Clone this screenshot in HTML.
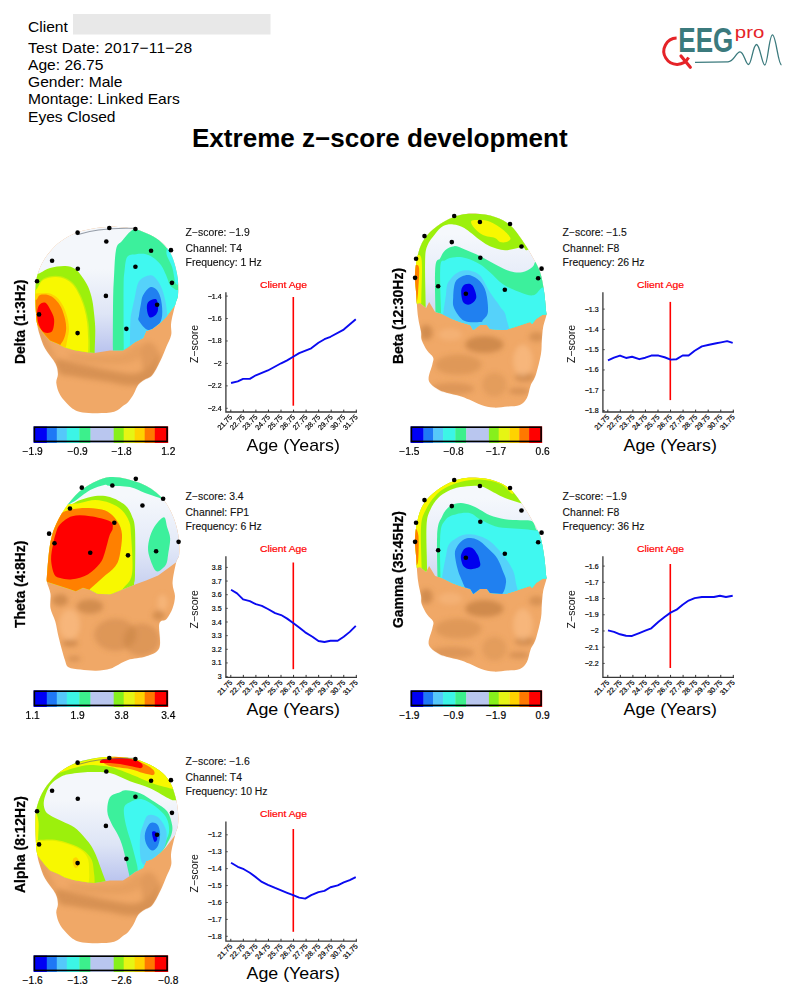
<!DOCTYPE html>
<html><head><meta charset="utf-8"><style>
html,body{margin:0;padding:0;background:#fff;}
body{width:798px;height:996px;overflow:hidden;position:relative;}
svg{position:absolute;left:0;top:0;}
</style></head><body>
<svg width="798" height="996" viewBox="0 0 798 996" font-family='"Liberation Sans", sans-serif'>
<defs><filter id="blur" x="-20%" y="-20%" width="140%" height="140%"><feGaussianBlur stdDeviation="14"/></filter><filter id="blur2" x="-20%" y="-20%" width="140%" height="140%"><feGaussianBlur stdDeviation="5"/></filter><linearGradient id="capgrad" x1="0" y1="0" x2="0" y2="1"><stop offset="0.4" stop-color="#f4f7fb"/><stop offset="0.68" stop-color="#dee5f6"/><stop offset="0.92" stop-color="#b9c3ee"/></linearGradient><linearGradient id="capgradF" x1="0" y1="0" x2="0" y2="1"><stop offset="0.2" stop-color="#f5f8fc"/><stop offset="0.5" stop-color="#e4eaf8"/><stop offset="0.82" stop-color="#c0caee"/></linearGradient></defs><defs><filter id="blurS" x="-50%" y="-50%" width="200%" height="200%"><feGaussianBlur stdDeviation="12"/></filter></defs><g transform="translate(30,215) scale(0.20080)"><defs><clipPath id="sil_delta"><path d="M28,450 C27.2,415.0 24.7,365.0 30,330 C35.3,295.0 46.7,266.7 60,240 C73.3,213.3 91.7,190.0 110,170 C128.3,150.0 148.3,134.2 170,120 C191.7,105.8 213.3,94.2 240,85 C266.7,75.8 303.3,69.5 330,65 C356.7,60.5 376.7,58.5 400,58 C423.3,57.5 448.3,59.7 470,62 C491.7,64.3 508.3,65.7 530,72 C551.7,78.3 578.3,88.7 600,100 C621.7,111.3 643.3,125.0 660,140 C676.7,155.0 689.2,170.0 700,190 C710.8,210.0 718.8,236.7 725,260 C731.2,283.3 735.0,306.7 737,330 C739.0,353.3 739.3,380.3 737,400 C734.7,419.7 728.7,425.0 723,448 C717.3,471.0 706.3,513.0 703,538 C699.7,563.0 707.2,578.0 703,598 C698.8,618.0 687.2,636.3 678,658 C668.8,679.7 659.7,704.7 648,728 C636.3,751.3 621.0,782.7 608,798 C595.0,813.3 581.5,812.2 570,820 C558.5,827.8 547.8,833.3 539,845 C530.2,856.7 525.2,875.8 517,890 C508.8,904.2 498.8,920.0 490,930 C481.2,940.0 475.8,941.7 464,950 C452.2,958.3 440.2,973.8 419,980 C397.8,986.2 363.2,986.5 337,987 C310.8,987.5 280.7,985.5 262,983 C243.3,980.5 236.2,977.5 225,972 C213.8,966.5 207.5,962.5 195,950 C182.5,937.5 160.7,915.8 150,897 C139.3,878.2 132.8,854.5 131,837 C129.2,819.5 139.7,808.2 139,792 C138.3,775.8 137.7,761.2 127,740 C116.3,718.8 88.0,688.7 75,665 C62.0,641.3 55.7,618.8 49,598 C42.3,577.2 38.5,564.7 35,540 C31.5,515.3 28.8,485.0 28,450Z"/></clipPath><clipPath id="cap_delta"><path d="M-50,-50 L850,-50 L850,440 L740,440 L723,448 L708,468 L678,508 L648,538 L608,568 L578,578 L563,613 L523,633 L488,658 L463,675 L398,675 L322,687 L285,684 L217,672 L172,658 L142,643 L100,625 L75,598 L45,559 L20,520 L-50,520 Z"/></clipPath></defs><path d="M28,450 C27.2,415.0 24.7,365.0 30,330 C35.3,295.0 46.7,266.7 60,240 C73.3,213.3 91.7,190.0 110,170 C128.3,150.0 148.3,134.2 170,120 C191.7,105.8 213.3,94.2 240,85 C266.7,75.8 303.3,69.5 330,65 C356.7,60.5 376.7,58.5 400,58 C423.3,57.5 448.3,59.7 470,62 C491.7,64.3 508.3,65.7 530,72 C551.7,78.3 578.3,88.7 600,100 C621.7,111.3 643.3,125.0 660,140 C676.7,155.0 689.2,170.0 700,190 C710.8,210.0 718.8,236.7 725,260 C731.2,283.3 735.0,306.7 737,330 C739.0,353.3 739.3,380.3 737,400 C734.7,419.7 728.7,425.0 723,448 C717.3,471.0 706.3,513.0 703,538 C699.7,563.0 707.2,578.0 703,598 C698.8,618.0 687.2,636.3 678,658 C668.8,679.7 659.7,704.7 648,728 C636.3,751.3 621.0,782.7 608,798 C595.0,813.3 581.5,812.2 570,820 C558.5,827.8 547.8,833.3 539,845 C530.2,856.7 525.2,875.8 517,890 C508.8,904.2 498.8,920.0 490,930 C481.2,940.0 475.8,941.7 464,950 C452.2,958.3 440.2,973.8 419,980 C397.8,986.2 363.2,986.5 337,987 C310.8,987.5 280.7,985.5 262,983 C243.3,980.5 236.2,977.5 225,972 C213.8,966.5 207.5,962.5 195,950 C182.5,937.5 160.7,915.8 150,897 C139.3,878.2 132.8,854.5 131,837 C129.2,819.5 139.7,808.2 139,792 C138.3,775.8 137.7,761.2 127,740 C116.3,718.8 88.0,688.7 75,665 C62.0,641.3 55.7,618.8 49,598 C42.3,577.2 38.5,564.7 35,540 C31.5,515.3 28.8,485.0 28,450Z" fill="#f0a867"/><g clip-path="url(#sil_delta)"><g filter="url(#blur)" opacity="0.5"><path d="M130,720 C148.3,712.5 215.0,735.8 260,745 C305.0,754.2 356.7,767.5 400,775 C443.3,782.5 486.7,794.2 520,790 C553.3,785.8 578.3,766.7 600,750 C621.7,733.3 648.3,676.7 650,690 C651.7,703.3 635.0,803.3 610,830 C585.0,856.7 538.3,850.0 500,850 C461.7,850.0 426.7,837.5 380,830 C333.3,822.5 258.3,811.7 220,805 C181.7,798.3 165.0,804.2 150,790 C135.0,775.8 111.7,727.5 130,720Z" fill="#c07c40"/><path d="M200,690 C220.0,686.7 286.7,700.0 330,700 C373.3,700.0 425.0,700.0 460,690 C495.0,680.0 523.3,638.3 540,640 C556.7,641.7 571.7,683.3 560,700 C548.3,716.7 510.0,733.3 470,740 C430.0,746.7 363.3,743.3 320,740 C276.7,736.7 230.0,728.3 210,720 C190.0,711.7 180.0,693.3 200,690Z" fill="#c07c40" opacity="0.35"/><path d="M560,650 C568.3,630.0 596.7,631.7 610,640 C623.3,648.3 641.7,673.3 640,700 C638.3,726.7 613.3,790.0 600,800 C586.7,810.0 566.7,785.0 560,760 C553.3,735.0 551.7,670.0 560,650Z" fill="#c07c40" opacity="0.6"/><path d="M40,560 C46.7,563.3 75.0,613.3 90,640 C105.0,666.7 128.3,710.0 130,720 C131.7,730.0 113.3,716.7 100,700 C86.7,683.3 60.0,643.3 50,620 C40.0,596.7 33.3,556.7 40,560Z" fill="#c07c40" opacity="0.6"/></g><g clip-path="url(#cap_delta)"><rect x="-50" y="-50" width="900" height="800" fill="url(#capgrad)"/><path d="M-20,300 C-20.0,300.0 33.3,297.3 50,289 C66.7,280.7 79.2,269.8 100,264 C120.8,258.2 154.2,253.2 175,254 C195.8,254.8 210.8,259.8 225,269 C239.2,278.2 249.2,294.0 260,309 C270.8,324.0 281.7,339.8 290,359 C298.3,378.2 305.0,400.7 310,424 C315.0,447.3 317.5,474.0 320,499 C322.5,524.0 324.7,544.0 325,574 C325.3,604.0 323.0,644.0 322,679 C321.0,714.0 325.0,760.0 325,760 C325.0,760.0 -20.0,760.0 -20,760 C-20.0,760.0 -20.0,300.0 -20,300Z" fill="#9cf00c"/><path d="M-20,360 C-20.0,360.0 25.0,380.7 35,365 C45.0,349.3 50.0,328.3 65,318 C80.0,307.7 106.7,304.0 125,303 C143.3,302.0 159.5,305.5 175,312 C190.5,318.5 205.5,328.2 218,342 C230.5,355.8 240.3,375.0 250,395 C259.7,415.0 269.0,438.2 276,462 C283.0,485.8 288.3,511.0 292,538 C295.7,565.0 296.0,595.3 298,624 C300.0,652.7 295.0,760.0 295,760 C295.0,760.0 -20.0,760.0 -20,760 C-20.0,760.0 -20.0,360.0 -20,360Z" fill="#c8f008"/><path d="M-20,369 C-20.0,369.0 25.0,384.0 35,369 C45.0,354.0 50.0,334.0 65,324 C80.0,314.0 106.7,309.8 125,309 C143.3,308.2 160.0,312.3 175,319 C190.0,325.7 203.3,335.7 215,349 C226.7,362.3 235.8,379.8 245,399 C254.2,418.2 263.3,440.7 270,464 C276.7,487.3 281.7,512.3 285,539 C288.3,565.7 288.3,595.7 290,624 C291.7,652.3 285.0,760.0 285,760 C285.0,760.0 -20.0,760.0 -20,760 C-20.0,760.0 -20.0,369.0 -20,369Z" fill="#f8f800"/><path d="M-20,410 C-20.0,410.0 22.7,390.0 40,390 C57.3,390.0 76.5,386.7 92,390 C107.5,393.3 120.7,399.2 133,410 C145.3,420.8 156.8,437.0 166,455 C175.2,473.0 183.3,498.5 188,518 C192.7,537.5 194.3,555.0 194,572 C193.7,589.0 188.7,604.0 186,620 C183.3,636.0 170.0,700.0 170,700 C170.0,700.0 -20.0,760.0 -20,760 C-20.0,760.0 -20.0,410.0 -20,410Z" fill="#ffd400"/><path d="M-20,419 C-20.0,419.0 30.0,425.7 35,419 C40.0,412.3 40.8,402.3 50,399 C59.2,395.7 77.5,395.7 90,399 C102.5,402.3 114.2,409.0 125,419 C135.8,429.0 146.7,442.3 155,459 C163.3,475.7 170.8,500.7 175,519 C179.2,537.3 180.8,553.2 180,569 C179.2,584.8 175.0,600.7 170,614 C165.0,627.3 156.7,637.3 150,649 C143.3,660.7 100.0,760.0 100,760 C100.0,760.0 -20.0,760.0 -20,760 C-20.0,760.0 -20.0,419.0 -20,419Z" fill="#ff8000"/><path d="M45,449 C51.7,439.3 65.8,432.7 75,436 C84.2,439.3 92.5,455.2 100,469 C107.5,482.8 118.3,500.7 120,519 C121.7,537.3 118.3,568.2 110,579 C101.7,589.8 80.8,589.0 70,584 C59.2,579.0 50.8,564.0 45,549 C39.2,534.0 35.0,510.7 35,494 C35.0,477.3 38.3,458.7 45,449Z" fill="#ff0000"/><path d="M413,760 C413.0,760.0 412.0,408.3 416,350 C420.0,291.7 421.0,211.7 428,175 C435.0,138.3 445.5,145.8 458,130 C470.5,114.2 488.0,91.7 503,80 C518.0,68.3 530.5,57.5 548,60 C565.5,62.5 589.7,81.7 608,95 C626.3,108.3 643.0,124.2 658,140 C673.0,155.8 687.2,170.8 698,190 C708.8,209.2 715.2,228.3 723,255 C730.8,281.7 737.7,318.3 745,350 C752.3,381.7 760.0,760.0 760,760 C760.0,760.0 413.0,760.0 413,760Z" fill="#3cf09c"/><path d="M468,760 C468.0,760.0 463.0,330.0 468,300 C473.0,270.0 473.0,227.5 483,210 C493.0,192.5 512.2,197.5 528,195 C543.8,192.5 563.0,191.7 578,195 C593.0,198.3 605.5,205.8 618,215 C630.5,224.2 643.0,235.8 653,250 C663.0,264.2 670.5,283.3 678,300 C685.5,316.7 690.2,338.0 698,350 C705.8,362.0 716.0,364.7 725,372 C734.0,379.3 760.0,360.0 760,360 C760.0,360.0 760.0,760.0 760,760 C760.0,760.0 468.0,760.0 468,760Z" fill="#40f8f0"/><path d="M690,165 C697.5,168.3 715.8,192.5 725,215 C734.2,237.5 738.3,271.7 745,300 C751.7,328.3 752.0,345.0 752,345 C752.0,345.0 726.7,356.0 722,332 C717.3,308.0 715.0,282.8 708,260 C701.0,237.2 683.0,210.8 680,195 C677.0,179.2 682.5,161.7 690,165Z" fill="#40f8f0"/><path d="M498,700 C498.0,700.0 497.3,524.0 503,498 C508.7,472.0 513.3,448.0 520,420 C526.7,392.0 530.0,350.0 543,330 C556.0,310.0 583.5,301.7 598,300 C612.5,298.3 620.0,308.3 630,320 C640.0,331.7 650.0,348.3 658,370 C666.0,391.7 673.8,420.8 678,450 C682.2,479.2 686.0,520.0 683,545 C680.0,570.0 673.8,584.2 660,600 C646.2,615.8 620.0,626.7 600,640 C580.0,653.3 498.0,700.0 498,700Z" fill="#55d2fa"/><path d="M543,500 C544.7,485.3 549.7,456.7 553,440 C556.3,423.3 555.5,413.3 563,400 C570.5,386.7 586.3,364.2 598,360 C609.7,355.8 623.8,364.2 633,375 C642.2,385.8 648.8,404.2 653,425 C657.2,445.8 660.5,479.5 658,500 C655.5,520.5 649.7,535.8 638,548 C626.3,560.2 603.8,576.3 588,573 C572.2,569.7 550.5,540.2 543,528 C535.5,515.8 541.3,514.7 543,500Z" fill="#2080f0"/><path d="M583,475 C581.3,462.5 580.5,444.2 588,435 C595.5,425.8 619.7,415.0 628,420 C636.3,425.0 638.0,452.5 638,465 C638.0,477.5 634.7,487.5 628,495 C621.3,502.5 605.5,513.3 598,510 C590.5,506.7 584.7,487.5 583,475Z" fill="#0000ee"/></g></g><path d="M235,98 C300,75 380,62 520,66" fill="none" stroke="#556070" stroke-width="5" opacity="0.6"/><circle cx="237" cy="88" r="11.5" fill="#000"/><circle cx="395" cy="65" r="11.5" fill="#000"/><circle cx="525" cy="70" r="11.5" fill="#000"/><circle cx="380" cy="132" r="11.5" fill="#000"/><circle cx="110" cy="228" r="11.5" fill="#000"/><circle cx="238" cy="268" r="11.5" fill="#000"/><circle cx="603" cy="178" r="11.5" fill="#000"/><circle cx="702" cy="175" r="11.5" fill="#000"/><circle cx="525" cy="258" r="11.5" fill="#000"/><circle cx="35" cy="330" r="11.5" fill="#000"/><circle cx="378" cy="403" r="11.5" fill="#000"/><circle cx="707" cy="338" r="11.5" fill="#000"/><circle cx="633" cy="447" r="11.5" fill="#000"/><circle cx="45" cy="495" r="11.5" fill="#000"/><circle cx="237" cy="588" r="11.5" fill="#000"/><circle cx="480" cy="567" r="11.5" fill="#000"/></g><g transform="translate(30,745) scale(0.20080)"><defs><clipPath id="sil_alpha"><path d="M28,450 C27.2,415.0 24.7,365.0 30,330 C35.3,295.0 46.7,266.7 60,240 C73.3,213.3 91.7,190.0 110,170 C128.3,150.0 148.3,134.2 170,120 C191.7,105.8 213.3,94.2 240,85 C266.7,75.8 303.3,69.5 330,65 C356.7,60.5 376.7,58.5 400,58 C423.3,57.5 448.3,59.7 470,62 C491.7,64.3 508.3,65.7 530,72 C551.7,78.3 578.3,88.7 600,100 C621.7,111.3 643.3,125.0 660,140 C676.7,155.0 689.2,170.0 700,190 C710.8,210.0 718.8,236.7 725,260 C731.2,283.3 735.0,306.7 737,330 C739.0,353.3 739.3,380.3 737,400 C734.7,419.7 728.7,425.0 723,448 C717.3,471.0 706.3,513.0 703,538 C699.7,563.0 707.2,578.0 703,598 C698.8,618.0 687.2,636.3 678,658 C668.8,679.7 659.7,704.7 648,728 C636.3,751.3 621.0,782.7 608,798 C595.0,813.3 581.5,812.2 570,820 C558.5,827.8 547.8,833.3 539,845 C530.2,856.7 525.2,875.8 517,890 C508.8,904.2 498.8,920.0 490,930 C481.2,940.0 475.8,941.7 464,950 C452.2,958.3 440.2,973.8 419,980 C397.8,986.2 363.2,986.5 337,987 C310.8,987.5 280.7,985.5 262,983 C243.3,980.5 236.2,977.5 225,972 C213.8,966.5 207.5,962.5 195,950 C182.5,937.5 160.7,915.8 150,897 C139.3,878.2 132.8,854.5 131,837 C129.2,819.5 139.7,808.2 139,792 C138.3,775.8 137.7,761.2 127,740 C116.3,718.8 88.0,688.7 75,665 C62.0,641.3 55.7,618.8 49,598 C42.3,577.2 38.5,564.7 35,540 C31.5,515.3 28.8,485.0 28,450Z"/></clipPath><clipPath id="cap_alpha"><path d="M-50,-50 L850,-50 L850,440 L740,440 L723,448 L708,468 L678,508 L648,538 L608,568 L578,578 L563,613 L523,633 L488,658 L463,675 L398,675 L322,687 L285,684 L217,672 L172,658 L142,643 L100,625 L75,598 L45,559 L20,520 L-50,520 Z"/></clipPath></defs><path d="M28,450 C27.2,415.0 24.7,365.0 30,330 C35.3,295.0 46.7,266.7 60,240 C73.3,213.3 91.7,190.0 110,170 C128.3,150.0 148.3,134.2 170,120 C191.7,105.8 213.3,94.2 240,85 C266.7,75.8 303.3,69.5 330,65 C356.7,60.5 376.7,58.5 400,58 C423.3,57.5 448.3,59.7 470,62 C491.7,64.3 508.3,65.7 530,72 C551.7,78.3 578.3,88.7 600,100 C621.7,111.3 643.3,125.0 660,140 C676.7,155.0 689.2,170.0 700,190 C710.8,210.0 718.8,236.7 725,260 C731.2,283.3 735.0,306.7 737,330 C739.0,353.3 739.3,380.3 737,400 C734.7,419.7 728.7,425.0 723,448 C717.3,471.0 706.3,513.0 703,538 C699.7,563.0 707.2,578.0 703,598 C698.8,618.0 687.2,636.3 678,658 C668.8,679.7 659.7,704.7 648,728 C636.3,751.3 621.0,782.7 608,798 C595.0,813.3 581.5,812.2 570,820 C558.5,827.8 547.8,833.3 539,845 C530.2,856.7 525.2,875.8 517,890 C508.8,904.2 498.8,920.0 490,930 C481.2,940.0 475.8,941.7 464,950 C452.2,958.3 440.2,973.8 419,980 C397.8,986.2 363.2,986.5 337,987 C310.8,987.5 280.7,985.5 262,983 C243.3,980.5 236.2,977.5 225,972 C213.8,966.5 207.5,962.5 195,950 C182.5,937.5 160.7,915.8 150,897 C139.3,878.2 132.8,854.5 131,837 C129.2,819.5 139.7,808.2 139,792 C138.3,775.8 137.7,761.2 127,740 C116.3,718.8 88.0,688.7 75,665 C62.0,641.3 55.7,618.8 49,598 C42.3,577.2 38.5,564.7 35,540 C31.5,515.3 28.8,485.0 28,450Z" fill="#f0a867"/><g clip-path="url(#sil_alpha)"><g filter="url(#blur)" opacity="0.5"><path d="M130,720 C148.3,712.5 215.0,735.8 260,745 C305.0,754.2 356.7,767.5 400,775 C443.3,782.5 486.7,794.2 520,790 C553.3,785.8 578.3,766.7 600,750 C621.7,733.3 648.3,676.7 650,690 C651.7,703.3 635.0,803.3 610,830 C585.0,856.7 538.3,850.0 500,850 C461.7,850.0 426.7,837.5 380,830 C333.3,822.5 258.3,811.7 220,805 C181.7,798.3 165.0,804.2 150,790 C135.0,775.8 111.7,727.5 130,720Z" fill="#c07c40"/><path d="M200,690 C220.0,686.7 286.7,700.0 330,700 C373.3,700.0 425.0,700.0 460,690 C495.0,680.0 523.3,638.3 540,640 C556.7,641.7 571.7,683.3 560,700 C548.3,716.7 510.0,733.3 470,740 C430.0,746.7 363.3,743.3 320,740 C276.7,736.7 230.0,728.3 210,720 C190.0,711.7 180.0,693.3 200,690Z" fill="#c07c40" opacity="0.35"/><path d="M560,650 C568.3,630.0 596.7,631.7 610,640 C623.3,648.3 641.7,673.3 640,700 C638.3,726.7 613.3,790.0 600,800 C586.7,810.0 566.7,785.0 560,760 C553.3,735.0 551.7,670.0 560,650Z" fill="#c07c40" opacity="0.6"/><path d="M40,560 C46.7,563.3 75.0,613.3 90,640 C105.0,666.7 128.3,710.0 130,720 C131.7,730.0 113.3,716.7 100,700 C86.7,683.3 60.0,643.3 50,620 C40.0,596.7 33.3,556.7 40,560Z" fill="#c07c40" opacity="0.6"/></g><g clip-path="url(#cap_alpha)"><rect x="-50" y="-50" width="900" height="800" fill="url(#capgrad)"/><path d="M-50,-50 C-50.0,-50.0 850.0,-50.0 850,-50 C850.0,-50.0 850.0,290.0 850,290 C850.0,290.0 731.3,276.7 723,275 C714.7,273.3 718.8,280.0 698,270 C677.2,260.0 631.3,230.0 598,215 C564.7,200.0 531.3,192.5 498,180 C464.7,167.5 431.0,147.5 398,140 C365.0,132.5 333.0,134.2 300,135 C267.0,135.8 225.0,140.8 200,145 C175.0,149.2 166.7,150.8 150,160 C133.3,169.2 113.3,180.8 100,200 C86.7,219.2 74.2,254.2 70,275 C65.8,295.8 70.0,312.5 75,325 C80.0,337.5 85.8,340.8 100,350 C114.2,359.2 140.0,370.0 160,380 C180.0,390.0 200.8,395.8 220,410 C239.2,424.2 258.3,445.0 275,465 C291.7,485.0 303.3,495.3 320,530 C336.7,564.7 356.7,625.3 375,673 C393.3,720.7 375.0,760.0 375,760 C375.0,760.0 -50.0,760.0 -50,760 C-50.0,760.0 -50.0,-50.0 -50,-50Z" fill="#9cf00c"/><path d="M140,140 C140.0,136.7 185.0,108.0 220,95 C255.0,82.0 311.7,69.2 350,62 C388.3,54.8 415.0,51.0 450,52 C485.0,53.0 526.7,58.7 560,68 C593.3,77.3 625.8,92.7 650,108 C674.2,123.3 690.8,141.3 705,160 C719.2,178.7 734.5,210.3 735,220 C735.5,229.7 717.5,219.7 708,218 C698.5,216.3 692.2,213.8 678,210 C663.8,206.2 644.7,202.5 623,195 C601.3,187.5 577.2,176.7 548,165 C518.8,153.3 473.0,134.2 448,125 C423.0,115.8 422.7,114.2 398,110 C373.3,105.8 329.7,99.2 300,100 C270.3,100.8 246.7,108.3 220,115 C193.3,121.7 140.0,143.3 140,140Z" fill="#f8f800"/><path d="M-50,300 C-50.0,300.0 12.7,273.3 20,300 C27.3,326.7 38.7,351.7 42,380 C45.3,408.3 40.7,440.0 40,470 C39.3,500.0 -50.0,480.0 -50,480 C-50.0,480.0 -50.0,300.0 -50,300Z" fill="#f8f800"/><path d="M398,105 C421.0,111.7 470.5,114.2 498,120 C525.5,125.8 543.8,135.0 563,140 C582.2,145.0 603.8,151.7 613,150 C622.2,148.3 622.2,137.5 618,130 C613.8,122.5 603.8,114.2 588,105 C572.2,95.8 546.0,82.5 523,75 C500.0,67.5 470.8,61.7 450,60 C429.2,58.3 413.0,61.7 398,65 C383.0,68.3 360.0,73.3 360,80 C360.0,86.7 375.0,98.3 398,105Z" fill="#ff8000"/><path d="M360,72 C368.0,69.0 383.3,71.2 398,70 C412.7,68.8 427.2,64.2 448,65 C468.8,65.8 504.7,70.0 523,75 C541.3,80.0 553.0,88.3 558,95 C563.0,101.7 563.0,113.3 553,115 C543.0,116.7 515.5,108.3 498,105 C480.5,101.7 464.7,97.5 448,95 C431.3,92.5 414.3,91.2 398,90 C381.7,88.8 356.3,91.0 350,88 C343.7,85.0 352.0,75.0 360,72Z" fill="#ff0000"/><path d="M20,478 C30.0,476.0 32.5,473.0 50,472 C67.5,471.0 100.0,468.7 125,472 C150.0,475.3 176.5,483.3 200,492 C223.5,500.7 248.0,510.5 266,524 C284.0,537.5 299.0,552.3 308,573 C317.0,593.7 316.0,623.0 320,648 C324.0,673.0 320.0,760.0 320,760 C320.0,760.0 -50.0,760.0 -50,760 C-50.0,760.0 -50.0,500.0 -50,500 C-50.0,500.0 10.0,480.0 20,478Z" fill="#e0f000"/><path d="M20,478 C30.0,478.0 32.5,478.0 50,478 C67.5,478.0 100.0,474.7 125,478 C150.0,481.3 177.5,489.7 200,498 C222.5,506.3 245.0,515.5 260,528 C275.0,540.5 284.2,553.0 290,573 C295.8,593.0 293.3,623.0 295,648 C296.7,673.0 280.0,760.0 280,760 C280.0,760.0 -50.0,760.0 -50,760 C-50.0,760.0 -50.0,500.0 -50,500 C-50.0,500.0 10.0,478.0 20,478Z" fill="#f8f800"/><path d="M215,568 C218.0,562.7 226.5,557.2 232,560 C237.5,562.8 246.7,577.5 248,585 C249.3,592.5 243.8,600.3 240,605 C236.2,609.7 229.3,615.2 225,613 C220.7,610.8 215.7,599.5 214,592 C212.3,584.5 212.0,573.3 215,568Z" fill="#ffd400"/><path d="M385,330 C383.8,308.3 387.5,275.8 398,260 C408.5,244.2 434.7,240.8 448,235 C461.3,229.2 461.3,224.2 478,225 C494.7,225.8 523.8,230.0 548,240 C572.2,250.0 600.5,270.0 623,285 C645.5,300.0 668.8,310.8 683,330 C697.2,349.2 704.7,380.0 708,400 C711.3,420.0 708.0,433.3 703,450 C698.0,466.7 687.2,483.7 678,500 C668.8,516.3 657.7,531.3 648,548 C638.3,564.7 629.3,582.7 620,600 C610.7,617.3 500.0,760.0 500,760 C500.0,760.0 503.0,686.3 493,643 C483.0,599.7 472.2,545.5 463,513 C453.8,480.5 447.7,468.5 438,448 C428.3,427.5 413.8,409.7 405,390 C396.2,370.3 386.2,351.7 385,330Z" fill="#3cf09c"/><path d="M468,315 C471.3,295.8 483.0,292.5 498,285 C513.0,277.5 537.2,266.7 558,270 C578.8,273.3 603.0,290.0 623,305 C643.0,320.0 666.3,340.0 678,360 C689.7,380.0 693.0,405.8 693,425 C693.0,444.2 686.3,457.5 678,475 C669.7,492.5 656.0,510.8 643,530 C630.0,549.2 614.3,570.0 600,590 C585.7,610.0 533.0,700.0 533,700 C533.0,700.0 541.3,630.7 533,598 C524.7,565.3 517.2,533.0 508,500 C498.8,467.0 484.7,430.8 478,400 C471.3,369.2 464.7,334.2 468,315Z" fill="#40f8f0"/><path d="M563,400 C569.7,381.7 575.5,356.7 588,350 C600.5,343.3 623.0,347.5 638,360 C653.0,372.5 672.2,401.7 678,425 C683.8,448.3 679.7,480.0 673,500 C666.3,520.0 651.8,528.3 638,545 C624.2,561.7 604.2,595.0 590,600 C575.8,605.0 560.0,598.3 553,575 C546.0,551.7 546.3,489.2 548,460 C549.7,430.8 556.3,418.3 563,400Z" fill="#55d2fa"/><path d="M573,440 C576.3,423.3 588.0,397.5 598,390 C608.0,382.5 624.7,386.7 633,395 C641.3,403.3 647.2,422.5 648,440 C648.8,457.5 644.7,485.8 638,500 C631.3,514.2 618.0,526.7 608,525 C598.0,523.3 583.8,504.2 578,490 C572.2,475.8 569.7,456.7 573,440Z" fill="#2080f0"/><path d="M608,435 C609.7,427.5 623.8,429.2 628,435 C632.2,440.8 634.7,462.5 633,470 C631.3,477.5 622.2,485.8 618,480 C613.8,474.2 606.3,442.5 608,435Z" fill="#0000ee"/></g></g><path d="M235,98 C300,75 380,62 520,66" fill="none" stroke="#556070" stroke-width="5" opacity="0.6"/><circle cx="237" cy="88" r="11.5" fill="#000"/><circle cx="395" cy="65" r="11.5" fill="#000"/><circle cx="525" cy="70" r="11.5" fill="#000"/><circle cx="380" cy="132" r="11.5" fill="#000"/><circle cx="110" cy="228" r="11.5" fill="#000"/><circle cx="238" cy="268" r="11.5" fill="#000"/><circle cx="603" cy="178" r="11.5" fill="#000"/><circle cx="702" cy="175" r="11.5" fill="#000"/><circle cx="525" cy="258" r="11.5" fill="#000"/><circle cx="35" cy="330" r="11.5" fill="#000"/><circle cx="378" cy="403" r="11.5" fill="#000"/><circle cx="707" cy="338" r="11.5" fill="#000"/><circle cx="633" cy="447" r="11.5" fill="#000"/><circle cx="45" cy="495" r="11.5" fill="#000"/><circle cx="237" cy="588" r="11.5" fill="#000"/><circle cx="480" cy="567" r="11.5" fill="#000"/></g><g transform="translate(400,212) scale(0.20080)"><defs><clipPath id="sil_beta"><path d="M375,8 C403.8,9.7 444.2,15.5 473,25 C501.8,34.5 525.5,45.8 548,65 C570.5,84.2 589.7,114.2 608,140 C626.3,165.8 643.0,193.3 658,220 C673.0,246.7 688.0,270.0 698,300 C708.0,330.0 713.0,367.0 718,400 C723.0,433.0 726.0,479.7 728,498 C730.0,516.3 732.5,497.5 730,510 C727.5,522.5 717.0,551.3 713,573 C709.0,594.7 707.8,617.7 706,640 C704.2,662.3 707.0,678.3 702,707 C697.0,735.7 684.7,785.7 676,812 C667.3,838.3 657.3,846.0 650,865 C642.7,884.0 640.8,910.0 632,926 C623.2,942.0 613.0,953.8 597,961 C581.0,968.2 557.8,966.8 536,969 C514.2,971.2 487.8,975.3 466,974 C444.2,972.7 425.3,967.7 405,961 C384.7,954.3 361.3,941.3 344,934 C326.7,926.7 319.8,922.7 301,917 C282.2,911.3 250.0,905.8 231,900 C212.0,894.2 201.7,892.3 187,882 C172.3,871.7 147.3,858.3 143,838 C138.7,817.7 157.3,778.8 161,760 C164.7,741.2 169.3,736.7 165,725 C160.7,713.3 144.5,704.7 135,690 C125.5,675.3 113.0,652.3 108,637 C103.0,621.7 108.0,617.0 105,598 C102.0,579.0 94.2,556.3 90,523 C85.8,489.7 82.5,435.2 80,398 C77.5,360.8 71.7,337.2 75,300 C78.3,262.8 87.5,208.3 100,175 C112.5,141.7 129.2,121.7 150,100 C170.8,78.3 200.0,59.2 225,45 C250.0,30.8 275.0,21.2 300,15 C325.0,8.8 346.2,6.3 375,8Z"/></clipPath><clipPath id="cap_beta"><path d="M-50,-50 L850,-50 L850,510 L730,510 L708,513 L678,533 L658,558 L648,548 L573,573 L523,588 L448,583 L433,563 L398,563 L365,588 L350,563 L300,548 L260,533 L210,508 L175,498 L145,448 L130,478 L100,453 L80,458 L-50,440 Z"/></clipPath></defs><path d="M375,8 C403.8,9.7 444.2,15.5 473,25 C501.8,34.5 525.5,45.8 548,65 C570.5,84.2 589.7,114.2 608,140 C626.3,165.8 643.0,193.3 658,220 C673.0,246.7 688.0,270.0 698,300 C708.0,330.0 713.0,367.0 718,400 C723.0,433.0 726.0,479.7 728,498 C730.0,516.3 732.5,497.5 730,510 C727.5,522.5 717.0,551.3 713,573 C709.0,594.7 707.8,617.7 706,640 C704.2,662.3 707.0,678.3 702,707 C697.0,735.7 684.7,785.7 676,812 C667.3,838.3 657.3,846.0 650,865 C642.7,884.0 640.8,910.0 632,926 C623.2,942.0 613.0,953.8 597,961 C581.0,968.2 557.8,966.8 536,969 C514.2,971.2 487.8,975.3 466,974 C444.2,972.7 425.3,967.7 405,961 C384.7,954.3 361.3,941.3 344,934 C326.7,926.7 319.8,922.7 301,917 C282.2,911.3 250.0,905.8 231,900 C212.0,894.2 201.7,892.3 187,882 C172.3,871.7 147.3,858.3 143,838 C138.7,817.7 157.3,778.8 161,760 C164.7,741.2 169.3,736.7 165,725 C160.7,713.3 144.5,704.7 135,690 C125.5,675.3 113.0,652.3 108,637 C103.0,621.7 108.0,617.0 105,598 C102.0,579.0 94.2,556.3 90,523 C85.8,489.7 82.5,435.2 80,398 C77.5,360.8 71.7,337.2 75,300 C78.3,262.8 87.5,208.3 100,175 C112.5,141.7 129.2,121.7 150,100 C170.8,78.3 200.0,59.2 225,45 C250.0,30.8 275.0,21.2 300,15 C325.0,8.8 346.2,6.3 375,8Z" fill="#f0a867"/><g clip-path="url(#sil_beta)"><g filter="url(#blurS)"><ellipse cx="420" cy="660" rx="95" ry="42" fill="#c07c40" opacity="0.69"/><ellipse cx="680" cy="622" rx="38" ry="24" fill="#c07c40" opacity="0.5"/><ellipse cx="130" cy="600" rx="32" ry="38" fill="#c07c40" opacity="0.62"/><ellipse cx="620" cy="822" rx="48" ry="22" fill="#c07c40" opacity="0.62"/><ellipse cx="592" cy="892" rx="52" ry="16" fill="#c07c40" opacity="0.5"/><ellipse cx="290" cy="760" rx="115" ry="50" fill="#c07c40" opacity="0.35"/><ellipse cx="260" cy="880" rx="110" ry="30" fill="#c07c40" opacity="0.38"/><ellipse cx="470" cy="860" rx="60" ry="60" fill="#c07c40" opacity="0.25"/><ellipse cx="612" cy="740" rx="48" ry="80" fill="#ffc894" opacity="0.45"/><ellipse cx="250" cy="610" rx="60" ry="30" fill="#ffc894" opacity="0.3"/></g><g clip-path="url(#cap_beta)"><rect x="-50" y="-50" width="900" height="800" fill="url(#capgradF)"/><path d="M-50,-50 C-50.0,-50.0 850.0,-50.0 850,-50 C850.0,-50.0 850.0,120.0 850,120 C850.0,120.0 670.7,176.7 660,180 C649.3,183.3 636.7,190.8 628,190 C619.3,189.2 625.5,175.0 608,175 C590.5,175.0 549.7,190.8 523,190 C496.3,189.2 468.8,178.3 448,170 C427.2,161.7 419.3,155.0 398,140 C376.7,125.0 342.2,93.0 320,80 C297.8,67.0 282.5,63.7 265,62 C247.5,60.3 230.0,62.0 215,70 C200.0,78.0 188.3,93.3 175,110 C161.7,126.7 143.3,146.7 135,170 C126.7,193.3 126.2,200.0 125,250 C123.8,300.0 127.0,396.7 128,470 C129.0,543.3 -50.0,470.0 -50,470 C-50.0,470.0 -50.0,-50.0 -50,-50Z" fill="#9cf00c"/><path d="M355,45 C359.7,38.3 382.5,39.5 398,40 C413.5,40.5 428.8,40.0 448,48 C467.2,56.0 496.0,74.3 513,88 C530.0,101.7 547.2,119.7 550,130 C552.8,140.3 538.7,146.7 530,150 C521.3,153.3 507.5,153.3 498,150 C488.5,146.7 487.2,135.8 473,130 C458.8,124.2 430.2,123.3 413,115 C395.8,106.7 379.7,91.7 370,80 C360.3,68.3 350.3,51.7 355,45Z" fill="#f8f800"/><path d="M-50,200 C-50.0,200.0 70.7,200.0 80,210 C89.3,220.0 103.7,200.0 108,240 C112.3,280.0 106.7,380.0 106,450 C105.3,520.0 -50.0,470.0 -50,470 C-50.0,470.0 -50.0,200.0 -50,200Z" fill="#f8f800"/><path d="M-50,260 C-50.0,260.0 68.3,253.3 75,260 C81.7,266.7 92.5,256.7 95,280 C97.5,303.3 91.8,371.7 90,400 C88.2,428.3 86.0,433.3 84,450 C82.0,466.7 -50.0,460.0 -50,460 C-50.0,460.0 -50.0,260.0 -50,260Z" fill="#ff8000"/><path d="M180,650 C178.3,530.0 171.7,360.0 175,290 C178.3,220.0 191.7,246.7 200,230 C208.3,213.3 213.3,200.0 225,190 C236.7,180.0 254.2,170.8 270,170 C285.8,169.2 298.3,176.7 320,185 C341.7,193.3 374.5,207.5 400,220 C425.5,232.5 448.3,247.5 473,260 C497.7,272.5 525.5,288.3 548,295 C570.5,301.7 589.7,303.3 608,300 C626.3,296.7 647.3,283.3 658,275 C668.7,266.7 667.3,258.3 672,250 C676.7,241.7 760.0,280.0 760,280 C760.0,280.0 760.0,650.0 760,650 C760.0,650.0 181.7,770.0 180,650Z" fill="#3cf09c"/><path d="M210,650 C206.7,530.0 197.5,358.3 200,290 C202.5,221.7 212.5,250.8 225,240 C237.5,229.2 257.5,226.7 275,225 C292.5,223.3 309.5,224.2 330,230 C350.5,235.8 378.3,248.3 398,260 C417.7,271.7 428.8,283.3 448,300 C467.2,316.7 488.0,343.3 513,360 C538.0,376.7 573.0,390.8 598,400 C623.0,409.2 645.5,418.3 663,415 C680.5,411.7 689.7,391.7 703,380 C716.3,368.3 760.0,380.0 760,380 C760.0,380.0 760.0,650.0 760,650 C760.0,650.0 213.3,770.0 210,650Z" fill="#40f8f0"/><path d="M235,650 C186.2,608.3 226.7,453.3 230,400 C233.3,346.7 243.3,347.5 255,330 C266.7,312.5 284.2,301.3 300,295 C315.8,288.7 333.3,288.2 350,292 C366.7,295.8 383.7,300.0 400,318 C416.3,336.0 431.7,374.7 448,400 C464.3,425.3 484.7,449.5 498,470 C511.3,490.5 523.8,493.0 528,523 C532.2,553.0 571.8,628.8 523,650 C474.2,671.2 283.8,691.7 235,650Z" fill="#55d2fa"/><path d="M265,425 C265.8,403.3 267.5,367.5 275,350 C282.5,332.5 297.5,325.8 310,320 C322.5,314.2 335.3,310.8 350,315 C364.7,319.2 385.0,330.8 398,345 C411.0,359.2 421.3,374.5 428,400 C434.7,425.5 440.5,475.0 438,498 C435.5,521.0 419.3,529.7 413,538 C406.7,546.3 415.5,547.3 400,548 C384.5,548.7 341.7,553.3 320,542 C298.3,530.7 279.2,499.5 270,480 C260.8,460.5 264.2,446.7 265,425Z" fill="#2080f0"/><path d="M305,390 C306.7,375.0 315.8,364.2 325,360 C334.2,355.8 350.8,354.2 360,365 C369.2,375.8 381.7,409.2 380,425 C378.3,440.8 360.8,455.8 350,460 C339.2,464.2 322.5,461.7 315,450 C307.5,438.3 303.3,405.0 305,390Z" fill="#0000ee"/></g></g><circle cx="270" cy="20" r="11.5" fill="#000"/><circle cx="398" cy="50" r="11.5" fill="#000"/><circle cx="548" cy="60" r="11.5" fill="#000"/><circle cx="122" cy="120" r="11.5" fill="#000"/><circle cx="258" cy="150" r="11.5" fill="#000"/><circle cx="605" cy="172" r="11.5" fill="#000"/><circle cx="80" cy="233" r="11.5" fill="#000"/><circle cx="400" cy="228" r="11.5" fill="#000"/><circle cx="705" cy="282" r="11.5" fill="#000"/><circle cx="75" cy="328" r="11.5" fill="#000"/><circle cx="688" cy="330" r="11.5" fill="#000"/><circle cx="190" cy="370" r="11.5" fill="#000"/><circle cx="522" cy="387" r="11.5" fill="#000"/><circle cx="328" cy="407" r="11.5" fill="#000"/></g><g transform="translate(400,476) scale(0.20080)"><defs><clipPath id="sil_gamma"><path d="M375,8 C403.8,9.7 444.2,15.5 473,25 C501.8,34.5 525.5,45.8 548,65 C570.5,84.2 589.7,114.2 608,140 C626.3,165.8 643.0,193.3 658,220 C673.0,246.7 688.0,270.0 698,300 C708.0,330.0 713.0,367.0 718,400 C723.0,433.0 726.0,479.7 728,498 C730.0,516.3 732.5,497.5 730,510 C727.5,522.5 717.0,551.3 713,573 C709.0,594.7 707.8,617.7 706,640 C704.2,662.3 707.0,678.3 702,707 C697.0,735.7 684.7,785.7 676,812 C667.3,838.3 657.3,846.0 650,865 C642.7,884.0 640.8,910.0 632,926 C623.2,942.0 613.0,953.8 597,961 C581.0,968.2 557.8,966.8 536,969 C514.2,971.2 487.8,975.3 466,974 C444.2,972.7 425.3,967.7 405,961 C384.7,954.3 361.3,941.3 344,934 C326.7,926.7 319.8,922.7 301,917 C282.2,911.3 250.0,905.8 231,900 C212.0,894.2 201.7,892.3 187,882 C172.3,871.7 147.3,858.3 143,838 C138.7,817.7 157.3,778.8 161,760 C164.7,741.2 169.3,736.7 165,725 C160.7,713.3 144.5,704.7 135,690 C125.5,675.3 113.0,652.3 108,637 C103.0,621.7 108.0,617.0 105,598 C102.0,579.0 94.2,556.3 90,523 C85.8,489.7 82.5,435.2 80,398 C77.5,360.8 71.7,337.2 75,300 C78.3,262.8 87.5,208.3 100,175 C112.5,141.7 129.2,121.7 150,100 C170.8,78.3 200.0,59.2 225,45 C250.0,30.8 275.0,21.2 300,15 C325.0,8.8 346.2,6.3 375,8Z"/></clipPath><clipPath id="cap_gamma"><path d="M-50,-50 L850,-50 L850,510 L730,510 L708,513 L678,533 L658,558 L648,548 L573,573 L523,588 L448,583 L433,563 L398,563 L365,588 L350,563 L300,548 L260,533 L210,508 L175,498 L145,448 L130,478 L100,453 L80,458 L-50,440 Z"/></clipPath></defs><path d="M375,8 C403.8,9.7 444.2,15.5 473,25 C501.8,34.5 525.5,45.8 548,65 C570.5,84.2 589.7,114.2 608,140 C626.3,165.8 643.0,193.3 658,220 C673.0,246.7 688.0,270.0 698,300 C708.0,330.0 713.0,367.0 718,400 C723.0,433.0 726.0,479.7 728,498 C730.0,516.3 732.5,497.5 730,510 C727.5,522.5 717.0,551.3 713,573 C709.0,594.7 707.8,617.7 706,640 C704.2,662.3 707.0,678.3 702,707 C697.0,735.7 684.7,785.7 676,812 C667.3,838.3 657.3,846.0 650,865 C642.7,884.0 640.8,910.0 632,926 C623.2,942.0 613.0,953.8 597,961 C581.0,968.2 557.8,966.8 536,969 C514.2,971.2 487.8,975.3 466,974 C444.2,972.7 425.3,967.7 405,961 C384.7,954.3 361.3,941.3 344,934 C326.7,926.7 319.8,922.7 301,917 C282.2,911.3 250.0,905.8 231,900 C212.0,894.2 201.7,892.3 187,882 C172.3,871.7 147.3,858.3 143,838 C138.7,817.7 157.3,778.8 161,760 C164.7,741.2 169.3,736.7 165,725 C160.7,713.3 144.5,704.7 135,690 C125.5,675.3 113.0,652.3 108,637 C103.0,621.7 108.0,617.0 105,598 C102.0,579.0 94.2,556.3 90,523 C85.8,489.7 82.5,435.2 80,398 C77.5,360.8 71.7,337.2 75,300 C78.3,262.8 87.5,208.3 100,175 C112.5,141.7 129.2,121.7 150,100 C170.8,78.3 200.0,59.2 225,45 C250.0,30.8 275.0,21.2 300,15 C325.0,8.8 346.2,6.3 375,8Z" fill="#f0a867"/><g clip-path="url(#sil_gamma)"><g filter="url(#blurS)"><ellipse cx="420" cy="660" rx="95" ry="42" fill="#c07c40" opacity="0.69"/><ellipse cx="680" cy="622" rx="38" ry="24" fill="#c07c40" opacity="0.5"/><ellipse cx="130" cy="600" rx="32" ry="38" fill="#c07c40" opacity="0.62"/><ellipse cx="620" cy="822" rx="48" ry="22" fill="#c07c40" opacity="0.62"/><ellipse cx="592" cy="892" rx="52" ry="16" fill="#c07c40" opacity="0.5"/><ellipse cx="290" cy="760" rx="115" ry="50" fill="#c07c40" opacity="0.35"/><ellipse cx="260" cy="880" rx="110" ry="30" fill="#c07c40" opacity="0.38"/><ellipse cx="470" cy="860" rx="60" ry="60" fill="#c07c40" opacity="0.25"/><ellipse cx="612" cy="740" rx="48" ry="80" fill="#ffc894" opacity="0.45"/><ellipse cx="250" cy="610" rx="60" ry="30" fill="#ffc894" opacity="0.3"/></g><g clip-path="url(#cap_gamma)"><rect x="-50" y="-50" width="900" height="800" fill="url(#capgradF)"/><path d="M-50,-50 C-50.0,-50.0 850.0,-50.0 850,-50 C850.0,-50.0 850.0,140.0 850,140 C850.0,140.0 623.0,143.3 598,135 C573.0,126.7 543.8,118.3 523,110 C502.2,101.7 493.8,95.0 473,85 C452.2,75.0 426.8,55.0 398,50 C369.2,45.0 326.3,50.8 300,55 C273.7,59.2 258.3,65.8 240,75 C221.7,84.2 205.0,94.2 190,110 C175.0,125.8 159.7,146.7 150,170 C140.3,193.3 134.5,200.0 132,250 C129.5,300.0 134.0,396.7 135,470 C136.0,543.3 -50.0,470.0 -50,470 C-50.0,470.0 -50.0,-50.0 -50,-50Z" fill="#9cf00c"/><path d="M-50,470 C-50.0,470.0 -50.0,100.0 -50,100 C-50.0,100.0 100.0,-20.0 100,-20 C100.0,-20.0 400.0,-40.0 400,-40 C400.0,-40.0 532.3,-3.3 540,20 C547.7,43.3 570.0,87.0 563,90 C556.0,93.0 525.5,50.0 498,38 C470.5,26.0 431.0,19.3 398,18 C365.0,16.7 328.8,23.0 300,30 C271.2,37.0 245.8,48.3 225,60 C204.2,71.7 190.8,82.5 175,100 C159.2,117.5 141.7,140.0 130,165 C118.3,190.0 108.7,199.2 105,250 C101.3,300.8 107.0,396.7 108,470 C109.0,543.3 -50.0,470.0 -50,470Z" fill="#f8f800"/><path d="M-50,250 C-50.0,250.0 69.3,233.3 75,250 C80.7,266.7 89.5,270.8 92,300 C94.5,329.2 92.8,400.0 90,425 C87.2,450.0 80.0,441.7 75,450 C70.0,458.3 -50.0,460.0 -50,460 C-50.0,460.0 -50.0,250.0 -50,250Z" fill="#ff8000"/><path d="M190,650 C188.3,533.3 181.7,375.0 185,300 C188.3,225.0 199.2,225.0 210,200 C220.8,175.0 235.0,160.8 250,150 C265.0,139.2 283.3,135.8 300,135 C316.7,134.2 333.7,139.5 350,145 C366.3,150.5 381.7,159.7 398,168 C414.3,176.3 427.2,187.2 448,195 C468.8,202.8 498.0,210.8 523,215 C548.0,219.2 575.5,218.3 598,220 C620.5,221.7 644.7,217.5 658,225 C671.3,232.5 671.3,251.7 678,265 C684.7,278.3 760.0,270.0 760,270 C760.0,270.0 760.0,650.0 760,650 C760.0,650.0 191.7,766.7 190,650Z" fill="#3cf09c"/><path d="M205,650 C203.3,536.7 196.7,381.7 200,310 C203.3,238.3 211.7,240.0 225,220 C238.3,200.0 259.2,195.8 280,190 C300.8,184.2 330.3,180.8 350,185 C369.7,189.2 377.5,204.2 398,215 C418.5,225.8 448.0,242.5 473,250 C498.0,257.5 523.0,257.5 548,260 C573.0,262.5 601.3,263.0 623,265 C644.7,267.0 659.7,269.7 678,272 C696.3,274.3 760.0,280.0 760,280 C760.0,280.0 760.0,650.0 760,650 C760.0,650.0 206.7,763.3 205,650Z" fill="#40f8f0"/><path d="M231,650 C176.3,605.0 223.8,436.7 232,380 C240.2,323.3 262.0,325.0 280,310 C298.0,295.0 320.3,291.7 340,290 C359.7,288.3 378.0,292.5 398,300 C418.0,307.5 436.3,313.3 460,335 C483.7,356.7 520.8,399.2 540,430 C559.2,460.8 571.7,483.3 575,520 C578.3,556.7 617.3,628.3 560,650 C502.7,671.7 285.7,695.0 231,650Z" fill="#55d2fa"/><path d="M274,398 C271.3,372.5 277.3,363.8 285,350 C292.7,336.2 307.5,321.7 320,315 C332.5,308.3 347.0,308.3 360,310 C373.0,311.7 383.3,315.0 398,325 C412.7,335.0 433.7,355.8 448,370 C462.3,384.2 473.7,393.7 484,410 C494.3,426.3 502.7,448.2 510,468 C517.3,487.8 530.8,507.0 528,529 C525.2,551.0 520.7,588.2 493,600 C465.3,611.8 394.0,616.2 362,600 C330.0,583.8 315.7,536.7 301,503 C286.3,469.3 276.7,423.5 274,398Z" fill="#2080f0"/><path d="M305,390 C308.3,380.0 315.8,365.3 325,360 C334.2,354.7 350.0,353.0 360,358 C370.0,363.0 379.2,380.3 385,390 C390.8,399.7 393.0,405.8 395,416 C397.0,426.2 404.5,442.8 397,451 C389.5,459.2 363.2,465.0 350,465 C336.8,465.0 325.5,458.5 318,451 C310.5,443.5 307.2,430.2 305,420 C302.8,409.8 301.7,400.0 305,390Z" fill="#0000ee"/></g></g><circle cx="270" cy="20" r="11.5" fill="#000"/><circle cx="398" cy="50" r="11.5" fill="#000"/><circle cx="548" cy="60" r="11.5" fill="#000"/><circle cx="122" cy="120" r="11.5" fill="#000"/><circle cx="258" cy="150" r="11.5" fill="#000"/><circle cx="605" cy="172" r="11.5" fill="#000"/><circle cx="80" cy="233" r="11.5" fill="#000"/><circle cx="400" cy="228" r="11.5" fill="#000"/><circle cx="705" cy="282" r="11.5" fill="#000"/><circle cx="75" cy="328" r="11.5" fill="#000"/><circle cx="688" cy="330" r="11.5" fill="#000"/><circle cx="190" cy="370" r="11.5" fill="#000"/><circle cx="522" cy="387" r="11.5" fill="#000"/><circle cx="328" cy="407" r="11.5" fill="#000"/></g><g transform="translate(30,474) scale(0.20080)"><defs><clipPath id="sil_theta"><path d="M85,498 C82.3,529.0 81.2,519.7 84,536 C86.8,552.3 99.0,574.0 102,596 C105.0,618.0 98.0,645.0 102,668 C106.0,691.0 119.0,709.0 126,734 C133.0,759.0 136.0,786.0 144,818 C152.0,850.0 166.0,902.0 174,926 C182.0,950.0 179.0,954.0 192,962 C205.0,970.0 229.0,971.0 252,974 C275.0,977.0 305.7,980.7 330,980 C354.3,979.3 381.7,974.0 398,970 C414.3,966.0 413.0,963.3 428,956 C443.0,948.7 463.0,934.0 488,926 C513.0,918.0 552.0,918.0 578,908 C604.0,898.0 633.0,893.0 644,866 C655.0,839.0 638.0,770.0 644,746 C650.0,722.0 669.0,735.0 680,722 C691.0,709.0 703.0,687.0 710,668 C717.0,649.0 722.0,629.0 722,608 C722.0,587.0 709.0,570.0 710,542 C711.0,514.0 722.5,463.7 728,440 C733.5,416.3 741.3,423.3 743,400 C744.7,376.7 743.8,333.3 738,300 C732.2,266.7 723.0,231.7 708,200 C693.0,168.3 674.7,135.8 648,110 C621.3,84.2 589.7,60.8 548,45 C506.3,29.2 444.3,10.8 398,15 C351.7,19.2 304.7,47.5 270,70 C235.3,92.5 213.3,120.0 190,150 C166.7,180.0 145.0,216.7 130,250 C115.0,283.3 107.5,308.7 100,350 C92.5,391.3 87.7,467.0 85,498Z"/></clipPath><clipPath id="cap_theta"><path d="M-50,-50 L850,-50 L850,430 L728,440 L686,470 L638,506 L578,530 L530,548 L470,572 L398,600 L336,596 L300,578 L264,566 L228,584 L192,572 L138,554 L84,536 L-50,520 Z"/></clipPath></defs><path d="M85,498 C82.3,529.0 81.2,519.7 84,536 C86.8,552.3 99.0,574.0 102,596 C105.0,618.0 98.0,645.0 102,668 C106.0,691.0 119.0,709.0 126,734 C133.0,759.0 136.0,786.0 144,818 C152.0,850.0 166.0,902.0 174,926 C182.0,950.0 179.0,954.0 192,962 C205.0,970.0 229.0,971.0 252,974 C275.0,977.0 305.7,980.7 330,980 C354.3,979.3 381.7,974.0 398,970 C414.3,966.0 413.0,963.3 428,956 C443.0,948.7 463.0,934.0 488,926 C513.0,918.0 552.0,918.0 578,908 C604.0,898.0 633.0,893.0 644,866 C655.0,839.0 638.0,770.0 644,746 C650.0,722.0 669.0,735.0 680,722 C691.0,709.0 703.0,687.0 710,668 C717.0,649.0 722.0,629.0 722,608 C722.0,587.0 709.0,570.0 710,542 C711.0,514.0 722.5,463.7 728,440 C733.5,416.3 741.3,423.3 743,400 C744.7,376.7 743.8,333.3 738,300 C732.2,266.7 723.0,231.7 708,200 C693.0,168.3 674.7,135.8 648,110 C621.3,84.2 589.7,60.8 548,45 C506.3,29.2 444.3,10.8 398,15 C351.7,19.2 304.7,47.5 270,70 C235.3,92.5 213.3,120.0 190,150 C166.7,180.0 145.0,216.7 130,250 C115.0,283.3 107.5,308.7 100,350 C92.5,391.3 87.7,467.0 85,498Z" fill="#f0a867"/><g clip-path="url(#sil_theta)"><g filter="url(#blurS)"><ellipse cx="150" cy="628" rx="40" ry="30" fill="#c07c40" opacity="0.62"/><ellipse cx="298" cy="660" rx="66" ry="36" fill="#c07c40" opacity="0.62"/><ellipse cx="425" cy="800" rx="105" ry="80" fill="#c07c40" opacity="0.38"/><ellipse cx="555" cy="825" rx="90" ry="80" fill="#c07c40" opacity="0.38"/><ellipse cx="200" cy="842" rx="40" ry="18" fill="#c07c40" opacity="0.62"/><ellipse cx="220" cy="920" rx="32" ry="14" fill="#c07c40" opacity="0.5"/><ellipse cx="640" cy="705" rx="30" ry="25" fill="#c07c40" opacity="0.56"/><ellipse cx="197" cy="750" rx="52" ry="75" fill="#ffc894" opacity="0.45"/><ellipse cx="660" cy="640" rx="25" ry="40" fill="#ffc894" opacity="0.4"/></g><g clip-path="url(#cap_theta)"><rect x="-50" y="-50" width="900" height="800" fill="url(#capgradF)"/><path d="M160,160 C164.2,146.7 213.3,93.3 240,60 C266.7,26.7 398.0,-20.0 398,-20 C398.0,-20.0 516.7,-43.3 560,0 C603.3,43.3 676.2,110.3 690,130 C703.8,149.7 662.5,123.8 643,118 C623.5,112.2 597.2,103.8 573,95 C548.8,86.2 527.2,70.8 498,65 C468.8,59.2 419.3,61.7 398,60 C376.7,58.3 386.3,51.7 370,55 C353.7,58.3 325.8,65.8 300,80 C274.2,94.2 238.3,126.7 215,140 C191.7,153.3 155.8,173.3 160,160Z" fill="#3cf09c"/><path d="M-50,650 C-50.0,650.0 78.7,576.7 84,520 C89.3,463.3 92.3,395.0 100,350 C107.7,305.0 115.0,281.7 130,250 C145.0,218.3 176.7,176.7 190,160 C203.3,143.3 200.0,155.0 210,150 C220.0,145.0 230.8,136.7 250,130 C269.2,123.3 300.3,112.5 325,110 C349.7,107.5 373.3,107.5 398,115 C422.7,122.5 454.7,139.2 473,155 C491.3,170.8 499.7,189.2 508,210 C516.3,230.8 520.5,232.0 523,280 C525.5,328.0 523.8,453.3 523,498 C522.2,542.7 519.7,531.3 518,548 C516.3,564.7 518.0,700.0 518,700 C518.0,700.0 -50.0,700.0 -50,700 C-50.0,700.0 -50.0,650.0 -50,650Z" fill="#9cf00c"/><path d="M-50,650 C-50.0,650.0 30.0,343.3 60,300 C90.0,256.7 118.3,195.8 150,170 C181.7,144.2 220.8,151.7 250,145 C279.2,138.3 300.3,130.0 325,130 C349.7,130.0 375.8,136.7 398,145 C420.2,153.3 442.2,165.0 458,180 C473.8,195.0 485.5,215.0 493,235 C500.5,255.0 500.5,256.2 503,300 C505.5,343.8 515.5,451.7 508,498 C500.5,544.3 474.7,551.3 458,578 C441.3,604.7 458.0,700.0 458,700 C458.0,700.0 -50.0,700.0 -50,700 C-50.0,700.0 -50.0,650.0 -50,650Z" fill="#f8f800"/><path d="M-50,650 C-50.0,650.0 36.7,326.7 60,300 C83.3,273.3 110.8,239.2 130,220 C149.2,200.8 155.0,193.3 175,185 C195.0,176.7 220.8,171.7 250,170 C279.2,168.3 325.3,170.8 350,175 C374.7,179.2 383.3,184.2 398,195 C412.7,205.8 428.0,222.5 438,240 C448.0,257.5 456.3,273.3 458,300 C459.7,326.7 453.5,373.3 448,400 C442.5,426.7 439.7,440.3 425,460 C410.3,479.7 380.8,499.3 360,518 C339.2,536.7 320.0,554.0 300,572 C280.0,590.0 300.0,700.0 300,700 C300.0,700.0 -50.0,700.0 -50,700 C-50.0,700.0 -50.0,650.0 -50,650Z" fill="#ff8000"/><path d="M130,290 C135.8,273.3 136.7,263.3 150,250 C163.3,236.7 185.0,216.7 210,210 C235.0,203.3 268.7,205.8 300,210 C331.3,214.2 379.3,225.0 398,235 C416.7,245.0 412.5,257.5 412,270 C411.5,282.5 402.0,288.3 395,310 C388.0,331.7 377.8,377.3 370,400 C362.2,422.7 361.7,429.3 348,446 C334.3,462.7 311.0,487.0 288,500 C265.0,513.0 233.0,521.0 210,524 C187.0,527.0 165.0,522.3 150,518 C135.0,513.7 127.5,513.5 120,498 C112.5,482.5 105.8,449.7 105,425 C104.2,400.3 110.8,372.5 115,350 C119.2,327.5 124.2,306.7 130,290Z" fill="#ff0000"/><path d="M668,215 C677.2,217.5 678.0,247.5 683,265 C688.0,282.5 697.2,297.5 698,320 C698.8,342.5 691.3,378.3 688,400 C684.7,421.7 684.7,436.7 678,450 C671.3,463.3 656.7,474.7 648,480 C639.3,485.3 632.7,487.0 626,482 C619.3,477.0 614.3,467.0 608,450 C601.7,433.0 589.7,403.3 588,380 C586.3,356.7 591.3,331.7 598,310 C604.7,288.3 616.3,265.8 628,250 C639.7,234.2 658.8,212.5 668,215Z" fill="#3cf09c"/></g></g><circle cx="258" cy="68" r="11.5" fill="#000"/><circle cx="410" cy="57" r="11.5" fill="#000"/><circle cx="527" cy="24" r="11.5" fill="#000"/><circle cx="663" cy="123" r="11.5" fill="#000"/><circle cx="560" cy="157" r="11.5" fill="#000"/><circle cx="199" cy="172" r="11.5" fill="#000"/><circle cx="420" cy="243" r="11.5" fill="#000"/><circle cx="95" cy="297" r="11.5" fill="#000"/><circle cx="122" cy="345" r="11.5" fill="#000"/><circle cx="740" cy="338" r="11.5" fill="#000"/><circle cx="300" cy="392" r="11.5" fill="#000"/><circle cx="488" cy="405" r="11.5" fill="#000"/><circle cx="628" cy="385" r="11.5" fill="#000"/></g><rect x="73" y="14" width="197.5" height="20.5" fill="#e8e8e8"/><g fill="#000"><text transform="translate(28,32) scale(1.04,1)" font-size="15.0">Client</text><text transform="translate(28,52.60) scale(1.04,1)" font-size="15.0" letter-spacing="0.15">Test Date: 2017−11−28</text><text transform="translate(28,69.85) scale(1.04,1)" font-size="15.0">Age: 26.75</text><text transform="translate(28,87.10) scale(1.04,1)" font-size="15.0">Gender: Male</text><text transform="translate(28,104.35) scale(1.04,1)" font-size="15.0">Montage: Linked Ears</text><text transform="translate(28,121.60) scale(1.04,1)" font-size="15.0">Eyes Closed</text></g><text transform="translate(192,147) scale(1.04,1)" font-size="25.05" font-weight="bold" fill="#000">Extreme z−score development</text><g><path d="M676.6,38 A13.2,13.2 0 1 0 688.6,57.6" fill="none" stroke="#e52328" stroke-width="3"/><path d="M681,56 L690.3,67.2" stroke="#e52328" stroke-width="3.2" stroke-linecap="round"/><text x="678.3" y="51.8" font-size="35" font-weight="bold" fill="#3b7a7d" textLength="55" lengthAdjust="spacingAndGlyphs">EEG</text><text x="734.8" y="37.9" font-size="17" fill="#e52328" textLength="29.5" lengthAdjust="spacingAndGlyphs">pro</text><path d="M695,62.3 L728,61.8 C734,61.6 736,52 740,51.8 C744,51.6 745.5,64.5 748.5,64.5 C751.5,64.5 753,44.5 756.5,44.5 C760,44.5 762,65 764.8,65 C767.8,65 769,34.8 772.5,34.8 C776,34.8 778,64.5 781.5,64.8" fill="none" stroke="#3b7a7d" stroke-width="1.3"/></g><text transform="translate(25.4,364) rotate(-90) scale(0.955,1)" font-size="14.6" font-weight="bold" fill="#000" stroke="#000" stroke-width="0.25">Delta (1:3Hz)</text><rect x="33.60" y="426.4" width="13.50" height="16.60" fill="#0000f5"/><rect x="46.80" y="426.4" width="10.30" height="16.60" fill="#1f78f5"/><rect x="56.80" y="426.4" width="10.30" height="16.60" fill="#55c8fa"/><rect x="66.80" y="426.4" width="12.80" height="16.60" fill="#3cf5e6"/><rect x="79.30" y="426.4" width="11.50" height="16.60" fill="#3cf08c"/><rect x="90.50" y="426.4" width="23.50" height="16.60" fill="#b9c6ef"/><rect x="113.70" y="426.4" width="10.30" height="16.60" fill="#86f01c"/><rect x="123.70" y="426.4" width="11.30" height="16.60" fill="#e6f514"/><rect x="134.70" y="426.4" width="10.30" height="16.60" fill="#ffd200"/><rect x="144.70" y="426.4" width="10.40" height="16.60" fill="#ff7800"/><rect x="154.80" y="426.4" width="13.40" height="16.60" fill="#ff0000"/><rect x="34.40" y="427.20" width="132.70" height="14.20" fill="none" stroke="#000" stroke-width="1.6"/><text x="32.6" y="455.2" font-size="10.2" text-anchor="middle" fill="#000" stroke="#000" stroke-width="0.2">−1.9</text><text x="77.6" y="455.2" font-size="10.2" text-anchor="middle" fill="#000" stroke="#000" stroke-width="0.2">−0.9</text><text x="121.6" y="455.2" font-size="10.2" text-anchor="middle" fill="#000" stroke="#000" stroke-width="0.2">−1.8</text><text x="168.3" y="455.2" font-size="10.2" text-anchor="middle" fill="#000" stroke="#000" stroke-width="0.2">1.2</text><text transform="translate(185.6,235.9) scale(1.04,1)" font-size="10.0" fill="#111" stroke="#111" stroke-width="0.12">Z−score: −1.9</text><text transform="translate(185.6,251.6) scale(1.04,1)" font-size="10.0" fill="#111" stroke="#111" stroke-width="0.12">Channel: T4</text><text transform="translate(185.6,265.8) scale(1.04,1)" font-size="10.0" fill="#111" stroke="#111" stroke-width="0.12">Frequency: 1 Hz</text><text transform="translate(283.5,287.9) scale(1.04,1)" font-size="9.95" text-anchor="middle" fill="#ff0000" stroke="#ff0000" stroke-width="0.2">Client Age</text><path d="M225.9,292.2 L225.9,412.0 L357,412.0" fill="none" stroke="#383838" stroke-width="1.3"/><line x1="225.9" y1="296.10" x2="227.70000000000002" y2="296.10" stroke="#444" stroke-width="1"/><text x="221.6" y="298.60" font-size="7" text-anchor="end" fill="#000" stroke="#000" stroke-width="0.18">−1.4</text><line x1="225.9" y1="318.54" x2="227.70000000000002" y2="318.54" stroke="#444" stroke-width="1"/><text x="221.6" y="321.04" font-size="7" text-anchor="end" fill="#000" stroke="#000" stroke-width="0.18">−1.6</text><line x1="225.9" y1="340.98" x2="227.70000000000002" y2="340.98" stroke="#444" stroke-width="1"/><text x="221.6" y="343.48" font-size="7" text-anchor="end" fill="#000" stroke="#000" stroke-width="0.18">−1.8</text><line x1="225.9" y1="363.42" x2="227.70000000000002" y2="363.42" stroke="#444" stroke-width="1"/><text x="221.6" y="365.92" font-size="7" text-anchor="end" fill="#000" stroke="#000" stroke-width="0.18">−2</text><line x1="225.9" y1="385.86" x2="227.70000000000002" y2="385.86" stroke="#444" stroke-width="1"/><text x="221.6" y="388.36" font-size="7" text-anchor="end" fill="#000" stroke="#000" stroke-width="0.18">−2.2</text><line x1="225.9" y1="408.30" x2="227.70000000000002" y2="408.30" stroke="#444" stroke-width="1"/><text x="221.6" y="410.80" font-size="7" text-anchor="end" fill="#000" stroke="#000" stroke-width="0.18">−2.4</text><line x1="230.80" y1="412.0" x2="230.80" y2="409.6" stroke="#333" stroke-width="1"/><text transform="translate(232.80,417.4) rotate(-47)" font-size="7.2" text-anchor="end" fill="#000" stroke="#000" stroke-width="0.18">21.75</text><line x1="243.35" y1="412.0" x2="243.35" y2="409.6" stroke="#333" stroke-width="1"/><text transform="translate(245.35,417.4) rotate(-47)" font-size="7.2" text-anchor="end" fill="#000" stroke="#000" stroke-width="0.18">22.75</text><line x1="255.90" y1="412.0" x2="255.90" y2="409.6" stroke="#333" stroke-width="1"/><text transform="translate(257.90,417.4) rotate(-47)" font-size="7.2" text-anchor="end" fill="#000" stroke="#000" stroke-width="0.18">23.75</text><line x1="268.45" y1="412.0" x2="268.45" y2="409.6" stroke="#333" stroke-width="1"/><text transform="translate(270.45,417.4) rotate(-47)" font-size="7.2" text-anchor="end" fill="#000" stroke="#000" stroke-width="0.18">24.75</text><line x1="281.00" y1="412.0" x2="281.00" y2="409.6" stroke="#333" stroke-width="1"/><text transform="translate(283.00,417.4) rotate(-47)" font-size="7.2" text-anchor="end" fill="#000" stroke="#000" stroke-width="0.18">25.75</text><line x1="293.55" y1="412.0" x2="293.55" y2="409.6" stroke="#333" stroke-width="1"/><text transform="translate(295.55,417.4) rotate(-47)" font-size="7.2" text-anchor="end" fill="#000" stroke="#000" stroke-width="0.18">26.75</text><line x1="306.10" y1="412.0" x2="306.10" y2="409.6" stroke="#333" stroke-width="1"/><text transform="translate(308.10,417.4) rotate(-47)" font-size="7.2" text-anchor="end" fill="#000" stroke="#000" stroke-width="0.18">27.75</text><line x1="318.65" y1="412.0" x2="318.65" y2="409.6" stroke="#333" stroke-width="1"/><text transform="translate(320.65,417.4) rotate(-47)" font-size="7.2" text-anchor="end" fill="#000" stroke="#000" stroke-width="0.18">28.75</text><line x1="331.20" y1="412.0" x2="331.20" y2="409.6" stroke="#333" stroke-width="1"/><text transform="translate(333.20,417.4) rotate(-47)" font-size="7.2" text-anchor="end" fill="#000" stroke="#000" stroke-width="0.18">29.75</text><line x1="343.75" y1="412.0" x2="343.75" y2="409.6" stroke="#333" stroke-width="1"/><text transform="translate(345.75,417.4) rotate(-47)" font-size="7.2" text-anchor="end" fill="#000" stroke="#000" stroke-width="0.18">30.75</text><line x1="356.30" y1="412.0" x2="356.30" y2="409.6" stroke="#333" stroke-width="1"/><text transform="translate(358.30,417.4) rotate(-47)" font-size="7.2" text-anchor="end" fill="#000" stroke="#000" stroke-width="0.18">31.75</text><text transform="translate(197.5,344) rotate(-90)" font-size="10.5" text-anchor="middle" fill="#111">Z−score</text><text transform="translate(293.2,450.7) scale(1.05,1)" font-size="16.95" text-anchor="middle" fill="#000">Age (Years)</text><line x1="293.3" y1="297" x2="293.3" y2="405.7" stroke="#ff0000" stroke-width="1.6"/><polyline points="231.05,383.01 237.79,381.33 243.09,378.92 249.83,378.92 255.85,375.31 267.89,370.49 281.13,363.27 287.15,360.38 293.17,356.77 299.19,353.16 311.23,348.34 318.45,342.80 324.47,339.19 330.49,336.78 343.74,329.56 355.78,319.21" fill="none" stroke="#0a0af0" stroke-width="1.9" stroke-linejoin="round"/><text transform="translate(402.7,364) rotate(-90) scale(0.955,1)" font-size="14.6" font-weight="bold" fill="#000" stroke="#000" stroke-width="0.25">Beta (12:30Hz)</text><rect x="410.60" y="426.4" width="13.21" height="16.60" fill="#0000f5"/><rect x="423.51" y="426.4" width="10.08" height="16.60" fill="#1f78f5"/><rect x="433.28" y="426.4" width="10.08" height="16.60" fill="#55c8fa"/><rect x="443.06" y="426.4" width="12.52" height="16.60" fill="#3cf5e6"/><rect x="455.28" y="426.4" width="11.25" height="16.60" fill="#3cf08c"/><rect x="466.23" y="426.4" width="22.98" height="16.60" fill="#b9c6ef"/><rect x="488.91" y="426.4" width="10.08" height="16.60" fill="#86f01c"/><rect x="498.69" y="426.4" width="11.05" height="16.60" fill="#e6f514"/><rect x="509.44" y="426.4" width="10.08" height="16.60" fill="#ffd200"/><rect x="519.22" y="426.4" width="10.17" height="16.60" fill="#ff7800"/><rect x="529.09" y="426.4" width="13.11" height="16.60" fill="#ff0000"/><rect x="411.40" y="427.20" width="129.70" height="14.20" fill="none" stroke="#000" stroke-width="1.6"/><text x="409.4" y="455.2" font-size="10.2" text-anchor="middle" fill="#000" stroke="#000" stroke-width="0.2">−1.5</text><text x="453.6" y="455.2" font-size="10.2" text-anchor="middle" fill="#000" stroke="#000" stroke-width="0.2">−0.8</text><text x="496.0" y="455.2" font-size="10.2" text-anchor="middle" fill="#000" stroke="#000" stroke-width="0.2">−1.7</text><text x="542.6" y="455.2" font-size="10.2" text-anchor="middle" fill="#000" stroke="#000" stroke-width="0.2">0.6</text><text transform="translate(562.6,235.9) scale(1.04,1)" font-size="10.0" fill="#111" stroke="#111" stroke-width="0.12">Z−score: −1.5</text><text transform="translate(562.6,251.6) scale(1.04,1)" font-size="10.0" fill="#111" stroke="#111" stroke-width="0.12">Channel: F8</text><text transform="translate(562.6,265.8) scale(1.04,1)" font-size="10.0" fill="#111" stroke="#111" stroke-width="0.12">Frequency: 26 Hz</text><text transform="translate(660.5,287.9) scale(1.04,1)" font-size="9.95" text-anchor="middle" fill="#ff0000" stroke="#ff0000" stroke-width="0.2">Client Age</text><path d="M602.9,292.2 L602.9,412.0 L734,412.0" fill="none" stroke="#383838" stroke-width="1.3"/><line x1="602.9" y1="309.10" x2="604.6999999999999" y2="309.10" stroke="#444" stroke-width="1"/><text x="598.6" y="311.60" font-size="7" text-anchor="end" fill="#000" stroke="#000" stroke-width="0.18">−1.3</text><line x1="602.9" y1="329.38" x2="604.6999999999999" y2="329.38" stroke="#444" stroke-width="1"/><text x="598.6" y="331.88" font-size="7" text-anchor="end" fill="#000" stroke="#000" stroke-width="0.18">−1.4</text><line x1="602.9" y1="349.66" x2="604.6999999999999" y2="349.66" stroke="#444" stroke-width="1"/><text x="598.6" y="352.16" font-size="7" text-anchor="end" fill="#000" stroke="#000" stroke-width="0.18">−1.5</text><line x1="602.9" y1="369.94" x2="604.6999999999999" y2="369.94" stroke="#444" stroke-width="1"/><text x="598.6" y="372.44" font-size="7" text-anchor="end" fill="#000" stroke="#000" stroke-width="0.18">−1.6</text><line x1="602.9" y1="390.22" x2="604.6999999999999" y2="390.22" stroke="#444" stroke-width="1"/><text x="598.6" y="392.72" font-size="7" text-anchor="end" fill="#000" stroke="#000" stroke-width="0.18">−1.7</text><line x1="602.9" y1="410.50" x2="604.6999999999999" y2="410.50" stroke="#444" stroke-width="1"/><text x="598.6" y="413.00" font-size="7" text-anchor="end" fill="#000" stroke="#000" stroke-width="0.18">−1.8</text><line x1="607.80" y1="412.0" x2="607.80" y2="409.6" stroke="#333" stroke-width="1"/><text transform="translate(609.80,417.4) rotate(-47)" font-size="7.2" text-anchor="end" fill="#000" stroke="#000" stroke-width="0.18">21.75</text><line x1="620.35" y1="412.0" x2="620.35" y2="409.6" stroke="#333" stroke-width="1"/><text transform="translate(622.35,417.4) rotate(-47)" font-size="7.2" text-anchor="end" fill="#000" stroke="#000" stroke-width="0.18">22.75</text><line x1="632.90" y1="412.0" x2="632.90" y2="409.6" stroke="#333" stroke-width="1"/><text transform="translate(634.90,417.4) rotate(-47)" font-size="7.2" text-anchor="end" fill="#000" stroke="#000" stroke-width="0.18">23.75</text><line x1="645.45" y1="412.0" x2="645.45" y2="409.6" stroke="#333" stroke-width="1"/><text transform="translate(647.45,417.4) rotate(-47)" font-size="7.2" text-anchor="end" fill="#000" stroke="#000" stroke-width="0.18">24.75</text><line x1="658.00" y1="412.0" x2="658.00" y2="409.6" stroke="#333" stroke-width="1"/><text transform="translate(660.00,417.4) rotate(-47)" font-size="7.2" text-anchor="end" fill="#000" stroke="#000" stroke-width="0.18">25.75</text><line x1="670.55" y1="412.0" x2="670.55" y2="409.6" stroke="#333" stroke-width="1"/><text transform="translate(672.55,417.4) rotate(-47)" font-size="7.2" text-anchor="end" fill="#000" stroke="#000" stroke-width="0.18">26.75</text><line x1="683.10" y1="412.0" x2="683.10" y2="409.6" stroke="#333" stroke-width="1"/><text transform="translate(685.10,417.4) rotate(-47)" font-size="7.2" text-anchor="end" fill="#000" stroke="#000" stroke-width="0.18">27.75</text><line x1="695.65" y1="412.0" x2="695.65" y2="409.6" stroke="#333" stroke-width="1"/><text transform="translate(697.65,417.4) rotate(-47)" font-size="7.2" text-anchor="end" fill="#000" stroke="#000" stroke-width="0.18">28.75</text><line x1="708.20" y1="412.0" x2="708.20" y2="409.6" stroke="#333" stroke-width="1"/><text transform="translate(710.20,417.4) rotate(-47)" font-size="7.2" text-anchor="end" fill="#000" stroke="#000" stroke-width="0.18">29.75</text><line x1="720.75" y1="412.0" x2="720.75" y2="409.6" stroke="#333" stroke-width="1"/><text transform="translate(722.75,417.4) rotate(-47)" font-size="7.2" text-anchor="end" fill="#000" stroke="#000" stroke-width="0.18">30.75</text><line x1="733.30" y1="412.0" x2="733.30" y2="409.6" stroke="#333" stroke-width="1"/><text transform="translate(735.30,417.4) rotate(-47)" font-size="7.2" text-anchor="end" fill="#000" stroke="#000" stroke-width="0.18">31.75</text><text transform="translate(574.5,344) rotate(-90)" font-size="10.5" text-anchor="middle" fill="#111">Z−score</text><text transform="translate(670.2,450.7) scale(1.05,1)" font-size="16.95" text-anchor="middle" fill="#000">Age (Years)</text><line x1="670.3" y1="301.9" x2="670.3" y2="400.1" stroke="#ff0000" stroke-width="1.6"/><polyline points="607.97,360.38 613.99,357.73 620.01,355.56 626.03,357.97 632.05,356.77 639.28,359.18 645.30,357.73 651.32,355.56 658.54,355.56 664.56,357.25 670.58,359.66 676.60,359.18 682.62,355.56 688.64,355.56 694.66,350.75 701.88,346.41 709.11,344.73 716.33,343.28 721.14,342.32 727.16,341.12 732.70,342.80" fill="none" stroke="#0a0af0" stroke-width="1.9" stroke-linejoin="round"/><text transform="translate(25.4,628) rotate(-90) scale(0.955,1)" font-size="14.6" font-weight="bold" fill="#000" stroke="#000" stroke-width="0.25">Theta (4:8Hz)</text><rect x="33.60" y="690.4" width="13.50" height="16.60" fill="#0000f5"/><rect x="46.80" y="690.4" width="10.30" height="16.60" fill="#1f78f5"/><rect x="56.80" y="690.4" width="10.30" height="16.60" fill="#55c8fa"/><rect x="66.80" y="690.4" width="12.80" height="16.60" fill="#3cf5e6"/><rect x="79.30" y="690.4" width="11.50" height="16.60" fill="#3cf08c"/><rect x="90.50" y="690.4" width="23.50" height="16.60" fill="#b9c6ef"/><rect x="113.70" y="690.4" width="10.30" height="16.60" fill="#86f01c"/><rect x="123.70" y="690.4" width="11.30" height="16.60" fill="#e6f514"/><rect x="134.70" y="690.4" width="10.30" height="16.60" fill="#ffd200"/><rect x="144.70" y="690.4" width="10.40" height="16.60" fill="#ff7800"/><rect x="154.80" y="690.4" width="13.40" height="16.60" fill="#ff0000"/><rect x="34.40" y="691.20" width="132.70" height="14.20" fill="none" stroke="#000" stroke-width="1.6"/><text x="32.6" y="719.2" font-size="10.2" text-anchor="middle" fill="#000" stroke="#000" stroke-width="0.2">1.1</text><text x="77.6" y="719.2" font-size="10.2" text-anchor="middle" fill="#000" stroke="#000" stroke-width="0.2">1.9</text><text x="121.6" y="719.2" font-size="10.2" text-anchor="middle" fill="#000" stroke="#000" stroke-width="0.2">3.8</text><text x="168.3" y="719.2" font-size="10.2" text-anchor="middle" fill="#000" stroke="#000" stroke-width="0.2">3.4</text><text transform="translate(185.6,499.9) scale(1.04,1)" font-size="10.0" fill="#111" stroke="#111" stroke-width="0.12">Z−score: 3.4</text><text transform="translate(185.6,515.6) scale(1.04,1)" font-size="10.0" fill="#111" stroke="#111" stroke-width="0.12">Channel: FP1</text><text transform="translate(185.6,529.8) scale(1.04,1)" font-size="10.0" fill="#111" stroke="#111" stroke-width="0.12">Frequency: 6 Hz</text><text transform="translate(283.5,551.9) scale(1.04,1)" font-size="9.95" text-anchor="middle" fill="#ff0000" stroke="#ff0000" stroke-width="0.2">Client Age</text><path d="M225.9,556.2 L225.9,677.3 L357,677.3" fill="none" stroke="#383838" stroke-width="1.3"/><line x1="225.9" y1="567.40" x2="227.70000000000002" y2="567.40" stroke="#444" stroke-width="1"/><text x="221.6" y="569.90" font-size="7" text-anchor="end" fill="#000" stroke="#000" stroke-width="0.18">3.8</text><line x1="225.9" y1="581.05" x2="227.70000000000002" y2="581.05" stroke="#444" stroke-width="1"/><text x="221.6" y="583.55" font-size="7" text-anchor="end" fill="#000" stroke="#000" stroke-width="0.18">3.7</text><line x1="225.9" y1="594.70" x2="227.70000000000002" y2="594.70" stroke="#444" stroke-width="1"/><text x="221.6" y="597.20" font-size="7" text-anchor="end" fill="#000" stroke="#000" stroke-width="0.18">3.6</text><line x1="225.9" y1="608.35" x2="227.70000000000002" y2="608.35" stroke="#444" stroke-width="1"/><text x="221.6" y="610.85" font-size="7" text-anchor="end" fill="#000" stroke="#000" stroke-width="0.18">3.5</text><line x1="225.9" y1="622.00" x2="227.70000000000002" y2="622.00" stroke="#444" stroke-width="1"/><text x="221.6" y="624.50" font-size="7" text-anchor="end" fill="#000" stroke="#000" stroke-width="0.18">3.4</text><line x1="225.9" y1="635.65" x2="227.70000000000002" y2="635.65" stroke="#444" stroke-width="1"/><text x="221.6" y="638.15" font-size="7" text-anchor="end" fill="#000" stroke="#000" stroke-width="0.18">3.3</text><line x1="225.9" y1="649.30" x2="227.70000000000002" y2="649.30" stroke="#444" stroke-width="1"/><text x="221.6" y="651.80" font-size="7" text-anchor="end" fill="#000" stroke="#000" stroke-width="0.18">3.2</text><line x1="225.9" y1="662.95" x2="227.70000000000002" y2="662.95" stroke="#444" stroke-width="1"/><text x="221.6" y="665.45" font-size="7" text-anchor="end" fill="#000" stroke="#000" stroke-width="0.18">3.1</text><line x1="225.9" y1="676.60" x2="227.70000000000002" y2="676.60" stroke="#444" stroke-width="1"/><text x="221.6" y="679.10" font-size="7" text-anchor="end" fill="#000" stroke="#000" stroke-width="0.18">3</text><line x1="230.80" y1="677.3" x2="230.80" y2="674.9" stroke="#333" stroke-width="1"/><text transform="translate(232.80,682.6999999999999) rotate(-47)" font-size="7.2" text-anchor="end" fill="#000" stroke="#000" stroke-width="0.18">21.75</text><line x1="243.35" y1="677.3" x2="243.35" y2="674.9" stroke="#333" stroke-width="1"/><text transform="translate(245.35,682.6999999999999) rotate(-47)" font-size="7.2" text-anchor="end" fill="#000" stroke="#000" stroke-width="0.18">22.75</text><line x1="255.90" y1="677.3" x2="255.90" y2="674.9" stroke="#333" stroke-width="1"/><text transform="translate(257.90,682.6999999999999) rotate(-47)" font-size="7.2" text-anchor="end" fill="#000" stroke="#000" stroke-width="0.18">23.75</text><line x1="268.45" y1="677.3" x2="268.45" y2="674.9" stroke="#333" stroke-width="1"/><text transform="translate(270.45,682.6999999999999) rotate(-47)" font-size="7.2" text-anchor="end" fill="#000" stroke="#000" stroke-width="0.18">24.75</text><line x1="281.00" y1="677.3" x2="281.00" y2="674.9" stroke="#333" stroke-width="1"/><text transform="translate(283.00,682.6999999999999) rotate(-47)" font-size="7.2" text-anchor="end" fill="#000" stroke="#000" stroke-width="0.18">25.75</text><line x1="293.55" y1="677.3" x2="293.55" y2="674.9" stroke="#333" stroke-width="1"/><text transform="translate(295.55,682.6999999999999) rotate(-47)" font-size="7.2" text-anchor="end" fill="#000" stroke="#000" stroke-width="0.18">26.75</text><line x1="306.10" y1="677.3" x2="306.10" y2="674.9" stroke="#333" stroke-width="1"/><text transform="translate(308.10,682.6999999999999) rotate(-47)" font-size="7.2" text-anchor="end" fill="#000" stroke="#000" stroke-width="0.18">27.75</text><line x1="318.65" y1="677.3" x2="318.65" y2="674.9" stroke="#333" stroke-width="1"/><text transform="translate(320.65,682.6999999999999) rotate(-47)" font-size="7.2" text-anchor="end" fill="#000" stroke="#000" stroke-width="0.18">28.75</text><line x1="331.20" y1="677.3" x2="331.20" y2="674.9" stroke="#333" stroke-width="1"/><text transform="translate(333.20,682.6999999999999) rotate(-47)" font-size="7.2" text-anchor="end" fill="#000" stroke="#000" stroke-width="0.18">29.75</text><line x1="343.75" y1="677.3" x2="343.75" y2="674.9" stroke="#333" stroke-width="1"/><text transform="translate(345.75,682.6999999999999) rotate(-47)" font-size="7.2" text-anchor="end" fill="#000" stroke="#000" stroke-width="0.18">30.75</text><line x1="356.30" y1="677.3" x2="356.30" y2="674.9" stroke="#333" stroke-width="1"/><text transform="translate(358.30,682.6999999999999) rotate(-47)" font-size="7.2" text-anchor="end" fill="#000" stroke="#000" stroke-width="0.18">31.75</text><text transform="translate(197.5,609.3) rotate(-90)" font-size="10.5" text-anchor="middle" fill="#111">Z−score</text><text transform="translate(293.2,715.3) scale(1.05,1)" font-size="16.95" text-anchor="middle" fill="#000">Age (Years)</text><line x1="293.3" y1="562.5" x2="293.3" y2="669.2" stroke="#ff0000" stroke-width="1.6"/><polyline points="231.05,589.74 237.07,593.36 243.09,599.38 249.83,601.06 255.85,604.19 261.87,605.88 267.89,609.01 275.11,613.10 281.13,615.03 287.15,618.64 293.17,622.97 299.19,627.55 305.21,632.36 312.43,636.70 318.45,641.03 324.47,641.99 330.49,640.79 337.72,640.79 343.74,636.70 349.76,631.88 355.78,625.86" fill="none" stroke="#0a0af0" stroke-width="1.9" stroke-linejoin="round"/><text transform="translate(402.7,628) rotate(-90) scale(0.955,1)" font-size="14.6" font-weight="bold" fill="#000" stroke="#000" stroke-width="0.25">Gamma (35:45Hz)</text><rect x="410.60" y="690.4" width="13.21" height="16.60" fill="#0000f5"/><rect x="423.51" y="690.4" width="10.08" height="16.60" fill="#1f78f5"/><rect x="433.28" y="690.4" width="10.08" height="16.60" fill="#55c8fa"/><rect x="443.06" y="690.4" width="12.52" height="16.60" fill="#3cf5e6"/><rect x="455.28" y="690.4" width="11.25" height="16.60" fill="#3cf08c"/><rect x="466.23" y="690.4" width="22.98" height="16.60" fill="#b9c6ef"/><rect x="488.91" y="690.4" width="10.08" height="16.60" fill="#86f01c"/><rect x="498.69" y="690.4" width="11.05" height="16.60" fill="#e6f514"/><rect x="509.44" y="690.4" width="10.08" height="16.60" fill="#ffd200"/><rect x="519.22" y="690.4" width="10.17" height="16.60" fill="#ff7800"/><rect x="529.09" y="690.4" width="13.11" height="16.60" fill="#ff0000"/><rect x="411.40" y="691.20" width="129.70" height="14.20" fill="none" stroke="#000" stroke-width="1.6"/><text x="409.4" y="719.2" font-size="10.2" text-anchor="middle" fill="#000" stroke="#000" stroke-width="0.2">−1.9</text><text x="453.6" y="719.2" font-size="10.2" text-anchor="middle" fill="#000" stroke="#000" stroke-width="0.2">−0.9</text><text x="496.0" y="719.2" font-size="10.2" text-anchor="middle" fill="#000" stroke="#000" stroke-width="0.2">−1.9</text><text x="542.6" y="719.2" font-size="10.2" text-anchor="middle" fill="#000" stroke="#000" stroke-width="0.2">0.9</text><text transform="translate(562.6,499.9) scale(1.04,1)" font-size="10.0" fill="#111" stroke="#111" stroke-width="0.12">Z−score: −1.9</text><text transform="translate(562.6,515.6) scale(1.04,1)" font-size="10.0" fill="#111" stroke="#111" stroke-width="0.12">Channel: F8</text><text transform="translate(562.6,529.8) scale(1.04,1)" font-size="10.0" fill="#111" stroke="#111" stroke-width="0.12">Frequency: 36 Hz</text><text transform="translate(660.5,551.9) scale(1.04,1)" font-size="9.95" text-anchor="middle" fill="#ff0000" stroke="#ff0000" stroke-width="0.2">Client Age</text><path d="M602.9,556.2 L602.9,677.3 L734,677.3" fill="none" stroke="#383838" stroke-width="1.3"/><line x1="602.9" y1="566.10" x2="604.6999999999999" y2="566.10" stroke="#444" stroke-width="1"/><text x="598.6" y="568.60" font-size="7" text-anchor="end" fill="#000" stroke="#000" stroke-width="0.18">−1.6</text><line x1="602.9" y1="582.32" x2="604.6999999999999" y2="582.32" stroke="#444" stroke-width="1"/><text x="598.6" y="584.82" font-size="7" text-anchor="end" fill="#000" stroke="#000" stroke-width="0.18">−1.7</text><line x1="602.9" y1="598.54" x2="604.6999999999999" y2="598.54" stroke="#444" stroke-width="1"/><text x="598.6" y="601.04" font-size="7" text-anchor="end" fill="#000" stroke="#000" stroke-width="0.18">−1.8</text><line x1="602.9" y1="614.76" x2="604.6999999999999" y2="614.76" stroke="#444" stroke-width="1"/><text x="598.6" y="617.26" font-size="7" text-anchor="end" fill="#000" stroke="#000" stroke-width="0.18">−1.9</text><line x1="602.9" y1="630.98" x2="604.6999999999999" y2="630.98" stroke="#444" stroke-width="1"/><text x="598.6" y="633.48" font-size="7" text-anchor="end" fill="#000" stroke="#000" stroke-width="0.18">−2</text><line x1="602.9" y1="647.20" x2="604.6999999999999" y2="647.20" stroke="#444" stroke-width="1"/><text x="598.6" y="649.70" font-size="7" text-anchor="end" fill="#000" stroke="#000" stroke-width="0.18">−2.1</text><line x1="602.9" y1="663.42" x2="604.6999999999999" y2="663.42" stroke="#444" stroke-width="1"/><text x="598.6" y="665.92" font-size="7" text-anchor="end" fill="#000" stroke="#000" stroke-width="0.18">−2.2</text><line x1="607.80" y1="677.3" x2="607.80" y2="674.9" stroke="#333" stroke-width="1"/><text transform="translate(609.80,682.6999999999999) rotate(-47)" font-size="7.2" text-anchor="end" fill="#000" stroke="#000" stroke-width="0.18">21.75</text><line x1="620.35" y1="677.3" x2="620.35" y2="674.9" stroke="#333" stroke-width="1"/><text transform="translate(622.35,682.6999999999999) rotate(-47)" font-size="7.2" text-anchor="end" fill="#000" stroke="#000" stroke-width="0.18">22.75</text><line x1="632.90" y1="677.3" x2="632.90" y2="674.9" stroke="#333" stroke-width="1"/><text transform="translate(634.90,682.6999999999999) rotate(-47)" font-size="7.2" text-anchor="end" fill="#000" stroke="#000" stroke-width="0.18">23.75</text><line x1="645.45" y1="677.3" x2="645.45" y2="674.9" stroke="#333" stroke-width="1"/><text transform="translate(647.45,682.6999999999999) rotate(-47)" font-size="7.2" text-anchor="end" fill="#000" stroke="#000" stroke-width="0.18">24.75</text><line x1="658.00" y1="677.3" x2="658.00" y2="674.9" stroke="#333" stroke-width="1"/><text transform="translate(660.00,682.6999999999999) rotate(-47)" font-size="7.2" text-anchor="end" fill="#000" stroke="#000" stroke-width="0.18">25.75</text><line x1="670.55" y1="677.3" x2="670.55" y2="674.9" stroke="#333" stroke-width="1"/><text transform="translate(672.55,682.6999999999999) rotate(-47)" font-size="7.2" text-anchor="end" fill="#000" stroke="#000" stroke-width="0.18">26.75</text><line x1="683.10" y1="677.3" x2="683.10" y2="674.9" stroke="#333" stroke-width="1"/><text transform="translate(685.10,682.6999999999999) rotate(-47)" font-size="7.2" text-anchor="end" fill="#000" stroke="#000" stroke-width="0.18">27.75</text><line x1="695.65" y1="677.3" x2="695.65" y2="674.9" stroke="#333" stroke-width="1"/><text transform="translate(697.65,682.6999999999999) rotate(-47)" font-size="7.2" text-anchor="end" fill="#000" stroke="#000" stroke-width="0.18">28.75</text><line x1="708.20" y1="677.3" x2="708.20" y2="674.9" stroke="#333" stroke-width="1"/><text transform="translate(710.20,682.6999999999999) rotate(-47)" font-size="7.2" text-anchor="end" fill="#000" stroke="#000" stroke-width="0.18">29.75</text><line x1="720.75" y1="677.3" x2="720.75" y2="674.9" stroke="#333" stroke-width="1"/><text transform="translate(722.75,682.6999999999999) rotate(-47)" font-size="7.2" text-anchor="end" fill="#000" stroke="#000" stroke-width="0.18">30.75</text><line x1="733.30" y1="677.3" x2="733.30" y2="674.9" stroke="#333" stroke-width="1"/><text transform="translate(735.30,682.6999999999999) rotate(-47)" font-size="7.2" text-anchor="end" fill="#000" stroke="#000" stroke-width="0.18">31.75</text><text transform="translate(574.5,609.3) rotate(-90)" font-size="10.5" text-anchor="middle" fill="#111">Z−score</text><text transform="translate(670.2,715.3) scale(1.05,1)" font-size="16.95" text-anchor="middle" fill="#000">Age (Years)</text><line x1="670.3" y1="564" x2="670.3" y2="668" stroke="#ff0000" stroke-width="1.6"/><polyline points="607.97,630.44 613.99,631.88 620.01,634.29 626.03,635.73 632.05,635.98 639.28,633.09 645.30,630.68 651.32,628.27 658.54,621.77 664.56,616.95 670.58,612.62 676.60,609.73 682.62,604.67 688.64,600.58 694.66,598.17 701.88,596.97 709.11,596.97 713.92,596.97 719.94,595.76 725.96,596.97 732.70,595.76" fill="none" stroke="#0a0af0" stroke-width="1.9" stroke-linejoin="round"/><text transform="translate(25.4,893) rotate(-90) scale(0.955,1)" font-size="14.6" font-weight="bold" fill="#000" stroke="#000" stroke-width="0.25">Alpha (8:12Hz)</text><rect x="33.60" y="955.4" width="13.50" height="16.60" fill="#0000f5"/><rect x="46.80" y="955.4" width="10.30" height="16.60" fill="#1f78f5"/><rect x="56.80" y="955.4" width="10.30" height="16.60" fill="#55c8fa"/><rect x="66.80" y="955.4" width="12.80" height="16.60" fill="#3cf5e6"/><rect x="79.30" y="955.4" width="11.50" height="16.60" fill="#3cf08c"/><rect x="90.50" y="955.4" width="23.50" height="16.60" fill="#b9c6ef"/><rect x="113.70" y="955.4" width="10.30" height="16.60" fill="#86f01c"/><rect x="123.70" y="955.4" width="11.30" height="16.60" fill="#e6f514"/><rect x="134.70" y="955.4" width="10.30" height="16.60" fill="#ffd200"/><rect x="144.70" y="955.4" width="10.40" height="16.60" fill="#ff7800"/><rect x="154.80" y="955.4" width="13.40" height="16.60" fill="#ff0000"/><rect x="34.40" y="956.20" width="132.70" height="14.20" fill="none" stroke="#000" stroke-width="1.6"/><text x="32.6" y="984.2" font-size="10.2" text-anchor="middle" fill="#000" stroke="#000" stroke-width="0.2">−1.6</text><text x="77.6" y="984.2" font-size="10.2" text-anchor="middle" fill="#000" stroke="#000" stroke-width="0.2">−1.3</text><text x="121.6" y="984.2" font-size="10.2" text-anchor="middle" fill="#000" stroke="#000" stroke-width="0.2">−2.6</text><text x="168.3" y="984.2" font-size="10.2" text-anchor="middle" fill="#000" stroke="#000" stroke-width="0.2">−0.8</text><text transform="translate(185.6,764.9) scale(1.04,1)" font-size="10.0" fill="#111" stroke="#111" stroke-width="0.12">Z−score: −1.6</text><text transform="translate(185.6,780.6) scale(1.04,1)" font-size="10.0" fill="#111" stroke="#111" stroke-width="0.12">Channel: T4</text><text transform="translate(185.6,794.8) scale(1.04,1)" font-size="10.0" fill="#111" stroke="#111" stroke-width="0.12">Frequency: 10 Hz</text><text transform="translate(283.5,816.9) scale(1.04,1)" font-size="9.95" text-anchor="middle" fill="#ff0000" stroke="#ff0000" stroke-width="0.2">Client Age</text><path d="M225.9,821.4 L225.9,941.2 L357,941.2" fill="none" stroke="#383838" stroke-width="1.3"/><line x1="225.9" y1="834.80" x2="227.70000000000002" y2="834.80" stroke="#444" stroke-width="1"/><text x="221.6" y="837.30" font-size="7" text-anchor="end" fill="#000" stroke="#000" stroke-width="0.18">−1.2</text><line x1="225.9" y1="851.72" x2="227.70000000000002" y2="851.72" stroke="#444" stroke-width="1"/><text x="221.6" y="854.22" font-size="7" text-anchor="end" fill="#000" stroke="#000" stroke-width="0.18">−1.3</text><line x1="225.9" y1="868.64" x2="227.70000000000002" y2="868.64" stroke="#444" stroke-width="1"/><text x="221.6" y="871.14" font-size="7" text-anchor="end" fill="#000" stroke="#000" stroke-width="0.18">−1.4</text><line x1="225.9" y1="885.56" x2="227.70000000000002" y2="885.56" stroke="#444" stroke-width="1"/><text x="221.6" y="888.06" font-size="7" text-anchor="end" fill="#000" stroke="#000" stroke-width="0.18">−1.5</text><line x1="225.9" y1="902.48" x2="227.70000000000002" y2="902.48" stroke="#444" stroke-width="1"/><text x="221.6" y="904.98" font-size="7" text-anchor="end" fill="#000" stroke="#000" stroke-width="0.18">−1.6</text><line x1="225.9" y1="919.40" x2="227.70000000000002" y2="919.40" stroke="#444" stroke-width="1"/><text x="221.6" y="921.90" font-size="7" text-anchor="end" fill="#000" stroke="#000" stroke-width="0.18">−1.7</text><line x1="225.9" y1="936.32" x2="227.70000000000002" y2="936.32" stroke="#444" stroke-width="1"/><text x="221.6" y="938.82" font-size="7" text-anchor="end" fill="#000" stroke="#000" stroke-width="0.18">−1.8</text><line x1="230.80" y1="941.2" x2="230.80" y2="938.8000000000001" stroke="#333" stroke-width="1"/><text transform="translate(232.80,946.6) rotate(-47)" font-size="7.2" text-anchor="end" fill="#000" stroke="#000" stroke-width="0.18">21.75</text><line x1="243.35" y1="941.2" x2="243.35" y2="938.8000000000001" stroke="#333" stroke-width="1"/><text transform="translate(245.35,946.6) rotate(-47)" font-size="7.2" text-anchor="end" fill="#000" stroke="#000" stroke-width="0.18">22.75</text><line x1="255.90" y1="941.2" x2="255.90" y2="938.8000000000001" stroke="#333" stroke-width="1"/><text transform="translate(257.90,946.6) rotate(-47)" font-size="7.2" text-anchor="end" fill="#000" stroke="#000" stroke-width="0.18">23.75</text><line x1="268.45" y1="941.2" x2="268.45" y2="938.8000000000001" stroke="#333" stroke-width="1"/><text transform="translate(270.45,946.6) rotate(-47)" font-size="7.2" text-anchor="end" fill="#000" stroke="#000" stroke-width="0.18">24.75</text><line x1="281.00" y1="941.2" x2="281.00" y2="938.8000000000001" stroke="#333" stroke-width="1"/><text transform="translate(283.00,946.6) rotate(-47)" font-size="7.2" text-anchor="end" fill="#000" stroke="#000" stroke-width="0.18">25.75</text><line x1="293.55" y1="941.2" x2="293.55" y2="938.8000000000001" stroke="#333" stroke-width="1"/><text transform="translate(295.55,946.6) rotate(-47)" font-size="7.2" text-anchor="end" fill="#000" stroke="#000" stroke-width="0.18">26.75</text><line x1="306.10" y1="941.2" x2="306.10" y2="938.8000000000001" stroke="#333" stroke-width="1"/><text transform="translate(308.10,946.6) rotate(-47)" font-size="7.2" text-anchor="end" fill="#000" stroke="#000" stroke-width="0.18">27.75</text><line x1="318.65" y1="941.2" x2="318.65" y2="938.8000000000001" stroke="#333" stroke-width="1"/><text transform="translate(320.65,946.6) rotate(-47)" font-size="7.2" text-anchor="end" fill="#000" stroke="#000" stroke-width="0.18">28.75</text><line x1="331.20" y1="941.2" x2="331.20" y2="938.8000000000001" stroke="#333" stroke-width="1"/><text transform="translate(333.20,946.6) rotate(-47)" font-size="7.2" text-anchor="end" fill="#000" stroke="#000" stroke-width="0.18">29.75</text><line x1="343.75" y1="941.2" x2="343.75" y2="938.8000000000001" stroke="#333" stroke-width="1"/><text transform="translate(345.75,946.6) rotate(-47)" font-size="7.2" text-anchor="end" fill="#000" stroke="#000" stroke-width="0.18">30.75</text><line x1="356.30" y1="941.2" x2="356.30" y2="938.8000000000001" stroke="#333" stroke-width="1"/><text transform="translate(358.30,946.6) rotate(-47)" font-size="7.2" text-anchor="end" fill="#000" stroke="#000" stroke-width="0.18">31.75</text><text transform="translate(197.5,873.3) rotate(-90)" font-size="10.5" text-anchor="middle" fill="#111">Z−score</text><text transform="translate(293.2,979.3) scale(1.05,1)" font-size="16.95" text-anchor="middle" fill="#000">Age (Years)</text><line x1="293.3" y1="829" x2="293.3" y2="931.8" stroke="#ff0000" stroke-width="1.6"/><polyline points="231.05,862.69 237.79,866.78 243.81,869.19 249.83,872.80 255.85,877.14 261.87,881.95 267.89,884.84 275.11,887.97 281.13,890.38 287.15,892.79 293.17,895.20 299.19,897.60 305.21,898.57 311.23,895.20 318.45,892.07 324.47,890.86 330.49,887.25 337.72,885.32 343.74,882.43 349.76,880.03 355.78,877.14" fill="none" stroke="#0a0af0" stroke-width="1.9" stroke-linejoin="round"/>
</svg>
</body></html>
